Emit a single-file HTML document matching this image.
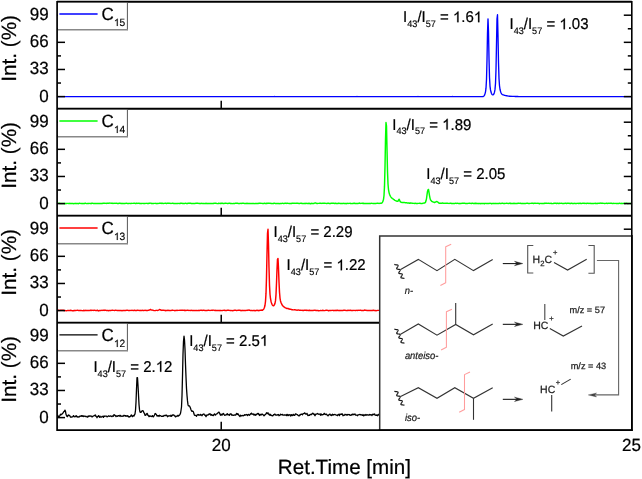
<!DOCTYPE html>
<html><head><meta charset="utf-8"><style>
html,body{margin:0;padding:0;background:#fff;overflow:hidden;}
svg{display:block;will-change:transform;}
text{font-family:"Liberation Sans",sans-serif;stroke:currentColor;stroke-width:0.22px;text-rendering:geometricPrecision;}
</style></head><body>
<svg width="642" height="479" viewBox="0 0 642 479">
<rect width="642" height="479" fill="#fff"/>
<polyline points="57.50,96.57 58.00,96.56 58.50,96.58 59.00,96.60 59.50,96.62 60.00,96.61 60.50,96.63 61.00,96.64 61.50,96.62 62.00,96.61 62.50,96.59 63.00,96.61 63.50,96.61 64.00,96.60 64.50,96.63 65.00,96.61 65.50,96.60 66.00,96.55 66.50,96.57 67.00,96.59 67.50,96.57 68.00,96.58 68.50,96.57 69.00,96.59 69.50,96.59 70.00,96.58 70.50,96.57 71.00,96.58 71.50,96.61 72.00,96.60 72.50,96.60 73.00,96.58 73.50,96.59 74.00,96.57 74.50,96.59 75.00,96.59 75.50,96.58 76.00,96.61 76.50,96.61 77.00,96.62 77.50,96.57 78.00,96.59 78.50,96.58 79.00,96.58 79.50,96.59 80.00,96.63 80.50,96.59 81.00,96.61 81.50,96.59 82.00,96.62 82.50,96.62 83.00,96.58 83.50,96.56 84.00,96.61 84.50,96.63 85.00,96.62 85.50,96.59 86.00,96.59 86.50,96.59 87.00,96.62 87.50,96.60 88.00,96.58 88.50,96.60 89.00,96.63 89.50,96.63 90.00,96.60 90.50,96.63 91.00,96.62 91.50,96.63 92.00,96.62 92.50,96.61 93.00,96.61 93.50,96.57 94.00,96.58 94.50,96.56 95.00,96.58 95.50,96.60 96.00,96.59 96.50,96.65 97.00,96.63 97.50,96.61 98.00,96.63 98.50,96.61 99.00,96.61 99.50,96.66 100.00,96.63 100.50,96.64 101.00,96.63 101.50,96.62 102.00,96.58 102.50,96.59 103.00,96.60 103.50,96.59 104.00,96.63 104.50,96.59 105.00,96.62 105.50,96.60 106.00,96.62 106.50,96.63 107.00,96.62 107.50,96.57 108.00,96.57 108.50,96.60 109.00,96.60 109.50,96.63 110.00,96.61 110.50,96.62 111.00,96.59 111.50,96.62 112.00,96.62 112.50,96.63 113.00,96.63 113.50,96.60 114.00,96.60 114.50,96.59 115.00,96.57 115.50,96.56 116.00,96.61 116.50,96.59 117.00,96.63 117.50,96.62 118.00,96.57 118.50,96.59 119.00,96.60 119.50,96.60 120.00,96.60 120.50,96.60 121.00,96.61 121.50,96.59 122.00,96.58 122.50,96.59 123.00,96.59 123.50,96.58 124.00,96.57 124.50,96.58 125.00,96.57 125.50,96.59 126.00,96.62 126.50,96.62 127.00,96.59 127.50,96.57 128.00,96.58 128.50,96.60 129.00,96.60 129.50,96.56 130.00,96.56 130.50,96.59 131.00,96.60 131.50,96.63 132.00,96.64 132.50,96.61 133.00,96.61 133.50,96.58 134.00,96.57 134.50,96.57 135.00,96.56 135.50,96.59 136.00,96.62 136.50,96.60 137.00,96.55 137.50,96.57 138.00,96.61 138.50,96.60 139.00,96.57 139.50,96.61 140.00,96.59 140.50,96.61 141.00,96.58 141.50,96.57 142.00,96.58 142.50,96.55 143.00,96.58 143.50,96.61 144.00,96.57 144.50,96.60 145.00,96.56 145.50,96.58 146.00,96.61 146.50,96.61 147.00,96.60 147.50,96.60 148.00,96.60 148.50,96.58 149.00,96.64 149.50,96.63 150.00,96.62 150.50,96.57 151.00,96.63 151.50,96.62 152.00,96.63 152.50,96.63 153.00,96.60 153.50,96.59 154.00,96.57 154.50,96.60 155.00,96.59 155.50,96.57 156.00,96.57 156.50,96.59 157.00,96.57 157.50,96.60 158.00,96.57 158.50,96.58 159.00,96.59 159.50,96.59 160.00,96.58 160.50,96.55 161.00,96.58 161.50,96.60 162.00,96.59 162.50,96.61 163.00,96.64 163.50,96.60 164.00,96.61 164.50,96.58 165.00,96.61 165.50,96.66 166.00,96.63 166.50,96.61 167.00,96.57 167.50,96.58 168.00,96.58 168.50,96.58 169.00,96.60 169.50,96.60 170.00,96.63 170.50,96.60 171.00,96.62 171.50,96.62 172.00,96.59 172.50,96.58 173.00,96.61 173.50,96.56 174.00,96.59 174.50,96.58 175.00,96.57 175.50,96.58 176.00,96.59 176.50,96.56 177.00,96.56 177.50,96.57 178.00,96.62 178.50,96.63 179.00,96.59 179.50,96.59 180.00,96.61 180.50,96.62 181.00,96.62 181.50,96.59 182.00,96.59 182.50,96.57 183.00,96.60 183.50,96.58 184.00,96.60 184.50,96.61 185.00,96.57 185.50,96.58 186.00,96.59 186.50,96.60 187.00,96.61 187.50,96.57 188.00,96.56 188.50,96.57 189.00,96.58 189.50,96.57 190.00,96.59 190.50,96.58 191.00,96.58 191.50,96.59 192.00,96.56 192.50,96.55 193.00,96.55 193.50,96.61 194.00,96.57 194.50,96.57 195.00,96.59 195.50,96.60 196.00,96.58 196.50,96.56 197.00,96.57 197.50,96.58 198.00,96.59 198.50,96.58 199.00,96.59 199.50,96.61 200.00,96.62 200.50,96.61 201.00,96.60 201.50,96.55 202.00,96.60 202.50,96.59 203.00,96.60 203.50,96.59 204.00,96.57 204.50,96.56 205.00,96.58 205.50,96.60 206.00,96.63 206.50,96.62 207.00,96.58 207.50,96.60 208.00,96.58 208.50,96.58 209.00,96.58 209.50,96.57 210.00,96.59 210.50,96.61 211.00,96.63 211.50,96.60 212.00,96.61 212.50,96.61 213.00,96.59 213.50,96.61 214.00,96.57 214.50,96.57 215.00,96.60 215.50,96.61 216.00,96.58 216.50,96.62 217.00,96.62 217.50,96.61 218.00,96.60 218.50,96.60 219.00,96.59 219.50,96.60 220.00,96.60 220.50,96.58 221.00,96.58 221.50,96.60 222.00,96.56 222.50,96.62 223.00,96.61 223.50,96.59 224.00,96.58 224.50,96.59 225.00,96.60 225.50,96.59 226.00,96.60 226.50,96.59 227.00,96.65 227.50,96.62 228.00,96.62 228.50,96.59 229.00,96.58 229.50,96.58 230.00,96.60 230.50,96.59 231.00,96.60 231.50,96.60 232.00,96.60 232.50,96.62 233.00,96.57 233.50,96.57 234.00,96.63 234.50,96.60 235.00,96.63 235.50,96.62 236.00,96.62 236.50,96.62 237.00,96.61 237.50,96.61 238.00,96.63 238.50,96.62 239.00,96.60 239.50,96.57 240.00,96.59 240.50,96.62 241.00,96.62 241.50,96.60 242.00,96.62 242.50,96.62 243.00,96.60 243.50,96.60 244.00,96.60 244.50,96.61 245.00,96.62 245.50,96.62 246.00,96.61 246.50,96.61 247.00,96.60 247.50,96.59 248.00,96.58 248.50,96.58 249.00,96.61 249.50,96.63 250.00,96.60 250.50,96.60 251.00,96.60 251.50,96.62 252.00,96.62 252.50,96.62 253.00,96.63 253.50,96.63 254.00,96.64 254.50,96.62 255.00,96.59 255.50,96.61 256.00,96.60 256.50,96.62 257.00,96.60 257.50,96.56 258.00,96.61 258.50,96.61 259.00,96.58 259.50,96.58 260.00,96.59 260.50,96.63 261.00,96.62 261.50,96.59 262.00,96.57 262.50,96.57 263.00,96.60 263.50,96.61 264.00,96.64 264.50,96.64 265.00,96.60 265.50,96.60 266.00,96.63 266.50,96.59 267.00,96.63 267.50,96.59 268.00,96.60 268.50,96.59 269.00,96.58 269.50,96.59 270.00,96.57 270.50,96.58 271.00,96.60 271.50,96.61 272.00,96.64 272.50,96.63 273.00,96.60 273.50,96.58 274.00,96.56 274.50,96.53 275.00,96.55 275.50,96.56 276.00,96.61 276.50,96.61 277.00,96.56 277.50,96.57 278.00,96.59 278.50,96.59 279.00,96.63 279.50,96.63 280.00,96.64 280.50,96.66 281.00,96.62 281.50,96.59 282.00,96.60 282.50,96.59 283.00,96.62 283.50,96.60 284.00,96.58 284.50,96.56 285.00,96.55 285.50,96.57 286.00,96.59 286.50,96.61 287.00,96.62 287.50,96.60 288.00,96.59 288.50,96.59 289.00,96.56 289.50,96.57 290.00,96.58 290.50,96.60 291.00,96.60 291.50,96.62 292.00,96.63 292.50,96.61 293.00,96.62 293.50,96.61 294.00,96.58 294.50,96.59 295.00,96.57 295.50,96.59 296.00,96.56 296.50,96.57 297.00,96.62 297.50,96.59 298.00,96.60 298.50,96.64 299.00,96.62 299.50,96.61 300.00,96.63 300.50,96.63 301.00,96.60 301.50,96.57 302.00,96.56 302.50,96.56 303.00,96.56 303.50,96.63 304.00,96.63 304.50,96.61 305.00,96.66 305.50,96.61 306.00,96.59 306.50,96.61 307.00,96.61 307.50,96.63 308.00,96.61 308.50,96.61 309.00,96.60 309.50,96.62 310.00,96.60 310.50,96.61 311.00,96.59 311.50,96.59 312.00,96.62 312.50,96.64 313.00,96.62 313.50,96.62 314.00,96.60 314.50,96.58 315.00,96.59 315.50,96.63 316.00,96.64 316.50,96.61 317.00,96.62 317.50,96.59 318.00,96.60 318.50,96.59 319.00,96.61 319.50,96.61 320.00,96.66 320.50,96.64 321.00,96.61 321.50,96.62 322.00,96.63 322.50,96.61 323.00,96.61 323.50,96.62 324.00,96.60 324.50,96.63 325.00,96.59 325.50,96.62 326.00,96.63 326.50,96.59 327.00,96.61 327.50,96.64 328.00,96.62 328.50,96.63 329.00,96.64 329.50,96.63 330.00,96.63 330.50,96.63 331.00,96.64 331.50,96.59 332.00,96.61 332.50,96.58 333.00,96.62 333.50,96.60 334.00,96.62 334.50,96.62 335.00,96.60 335.50,96.61 336.00,96.64 336.50,96.63 337.00,96.62 337.50,96.60 338.00,96.62 338.50,96.62 339.00,96.61 339.50,96.64 340.00,96.62 340.50,96.63 341.00,96.60 341.50,96.60 342.00,96.61 342.50,96.65 343.00,96.63 343.50,96.62 344.00,96.63 344.50,96.62 345.00,96.64 345.50,96.62 346.00,96.59 346.50,96.59 347.00,96.60 347.50,96.57 348.00,96.57 348.50,96.60 349.00,96.60 349.50,96.63 350.00,96.62 350.50,96.60 351.00,96.57 351.50,96.59 352.00,96.63 352.50,96.62 353.00,96.58 353.50,96.59 354.00,96.57 354.50,96.57 355.00,96.55 355.50,96.56 356.00,96.60 356.50,96.59 357.00,96.54 357.50,96.58 358.00,96.63 358.50,96.57 359.00,96.58 359.50,96.60 360.00,96.61 360.50,96.64 361.00,96.60 361.50,96.60 362.00,96.61 362.50,96.61 363.00,96.62 363.50,96.59 364.00,96.60 364.50,96.57 365.00,96.60 365.50,96.61 366.00,96.62 366.50,96.62 367.00,96.61 367.50,96.59 368.00,96.57 368.50,96.61 369.00,96.58 369.50,96.59 370.00,96.56 370.50,96.58 371.00,96.61 371.50,96.59 372.00,96.58 372.50,96.60 373.00,96.60 373.50,96.60 374.00,96.59 374.50,96.63 375.00,96.64 375.50,96.62 376.00,96.60 376.50,96.61 377.00,96.64 377.50,96.59 378.00,96.60 378.50,96.62 379.00,96.58 379.50,96.57 380.00,96.56 380.50,96.56 381.00,96.57 381.50,96.60 382.00,96.60 382.50,96.59 383.00,96.58 383.50,96.58 384.00,96.61 384.50,96.62 385.00,96.62 385.50,96.61 386.00,96.62 386.50,96.65 387.00,96.65 387.50,96.62 388.00,96.61 388.50,96.59 389.00,96.63 389.50,96.63 390.00,96.59 390.50,96.64 391.00,96.64 391.50,96.65 392.00,96.60 392.50,96.60 393.00,96.61 393.50,96.60 394.00,96.60 394.50,96.58 395.00,96.57 395.50,96.57 396.00,96.58 396.50,96.57 397.00,96.57 397.50,96.56 398.00,96.62 398.50,96.60 399.00,96.60 399.50,96.60 400.00,96.60 400.50,96.60 401.00,96.59 401.50,96.59 402.00,96.59 402.50,96.62 403.00,96.63 403.50,96.63 404.00,96.65 404.50,96.64 405.00,96.64 405.50,96.65 406.00,96.67 406.50,96.64 407.00,96.63 407.50,96.57 408.00,96.57 408.50,96.60 409.00,96.61 409.50,96.63 410.00,96.63 410.50,96.62 411.00,96.61 411.50,96.62 412.00,96.59 412.50,96.58 413.00,96.55 413.50,96.60 414.00,96.59 414.50,96.60 415.00,96.63 415.50,96.62 416.00,96.64 416.50,96.62 417.00,96.56 417.50,96.55 418.00,96.54 418.50,96.55 419.00,96.60 419.50,96.59 420.00,96.59 420.50,96.59 421.00,96.61 421.50,96.65 422.00,96.58 422.50,96.57 423.00,96.58 423.50,96.60 424.00,96.60 424.50,96.62 425.00,96.59 425.50,96.59 426.00,96.60 426.50,96.61 427.00,96.61 427.50,96.60 428.00,96.61 428.50,96.58 429.00,96.59 429.50,96.60 430.00,96.62 430.50,96.58 431.00,96.57 431.50,96.57 432.00,96.62 432.50,96.62 433.00,96.59 433.50,96.59 434.00,96.57 434.50,96.59 435.00,96.58 435.50,96.58 436.00,96.64 436.50,96.63 437.00,96.62 437.50,96.62 438.00,96.63 438.50,96.58 439.00,96.59 439.50,96.58 440.00,96.62 440.50,96.65 441.00,96.63 441.50,96.61 442.00,96.62 442.50,96.60 443.00,96.58 443.50,96.60 444.00,96.60 444.50,96.62 445.00,96.59 445.50,96.56 446.00,96.57 446.50,96.59 447.00,96.61 447.50,96.61 448.00,96.59 448.50,96.61 449.00,96.57 449.50,96.61 450.00,96.61 450.50,96.58 451.00,96.55 451.50,96.58 452.00,96.58 452.50,96.54 453.00,96.55 453.50,96.62 454.00,96.60 454.50,96.55 455.00,96.60 455.50,96.58 456.00,96.63 456.50,96.58 457.00,96.61 457.50,96.59 458.00,96.58 458.50,96.64 459.00,96.65 459.50,96.62 460.00,96.64 460.50,96.62 461.00,96.63 461.50,96.59 462.00,96.60 462.50,96.62 463.00,96.60 463.50,96.57 464.00,96.59 464.50,96.59 465.00,96.58 465.50,96.60 466.00,96.62 466.50,96.60 467.00,96.61 467.50,96.63 468.00,96.60 468.50,96.59 469.00,96.59 469.50,96.61 470.00,96.61 470.50,96.59 471.00,96.59 471.50,96.61 472.00,96.62 472.50,96.60 473.00,96.60 473.50,96.58 474.00,96.61 474.50,96.59 475.00,96.56 475.50,96.56 476.00,96.58 476.50,96.57 477.00,96.61 477.50,96.61 478.00,96.57 478.50,96.62 479.00,96.63 479.50,96.60 480.00,96.61 480.50,96.62 481.00,96.63 481.50,96.58 482.00,96.59 482.50,96.56 483.00,96.52 483.50,96.31 484.00,95.92 484.50,95.17 485.00,93.87 485.50,91.84 486.00,88.18 486.50,79.50 487.00,60.10 487.50,32.89 488.00,18.85 488.50,31.53 489.00,58.13 489.50,77.33 490.00,86.08 490.50,89.89 491.00,92.09 491.50,93.53 492.00,94.40 492.50,94.82 493.00,94.88 493.50,94.53 494.00,93.72 494.50,92.14 495.00,89.40 495.50,83.48 496.00,69.41 496.50,44.00 497.00,18.72 497.50,14.76 498.00,35.78 498.50,62.20 499.00,78.49 499.50,85.77 500.00,89.23 500.50,91.37 501.00,92.74 501.50,93.67 502.00,94.21 502.50,94.54 503.00,94.77 503.50,94.96 504.00,95.15 504.50,95.33 505.00,95.47 505.50,95.62 506.00,95.68 506.50,95.76 507.00,95.88 507.50,95.91 508.00,96.03 508.50,96.07 509.00,96.15 509.50,96.22 510.00,96.24 510.50,96.30 511.00,96.29 511.50,96.35 512.00,96.37 512.50,96.40 513.00,96.41 513.50,96.44 514.00,96.44 514.50,96.45 515.00,96.47 515.50,96.49 516.00,96.46 516.50,96.51 517.00,96.53 517.50,96.52 518.00,96.53 518.50,96.57 519.00,96.57 519.50,96.57 520.00,96.59 520.50,96.57 521.00,96.60 521.50,96.59 522.00,96.61 522.50,96.56 523.00,96.58 523.50,96.57 524.00,96.57 524.50,96.57 525.00,96.58 525.50,96.57 526.00,96.58 526.50,96.63 527.00,96.61 527.50,96.63 528.00,96.59 528.50,96.59 529.00,96.60 529.50,96.65 530.00,96.66 530.50,96.65 531.00,96.63 531.50,96.64 532.00,96.58 532.50,96.58 533.00,96.59 533.50,96.61 534.00,96.61 534.50,96.61 535.00,96.61 535.50,96.61 536.00,96.59 536.50,96.63 537.00,96.61 537.50,96.58 538.00,96.62 538.50,96.61 539.00,96.61 539.50,96.63 540.00,96.60 540.50,96.60 541.00,96.58 541.50,96.58 542.00,96.60 542.50,96.59 543.00,96.60 543.50,96.63 544.00,96.59 544.50,96.59 545.00,96.57 545.50,96.62 546.00,96.59 546.50,96.58 547.00,96.59 547.50,96.64 548.00,96.62 548.50,96.62 549.00,96.61 549.50,96.61 550.00,96.62 550.50,96.61 551.00,96.61 551.50,96.57 552.00,96.59 552.50,96.55 553.00,96.60 553.50,96.60 554.00,96.58 554.50,96.62 555.00,96.60 555.50,96.59 556.00,96.61 556.50,96.61 557.00,96.57 557.50,96.60 558.00,96.59 558.50,96.59 559.00,96.57 559.50,96.63 560.00,96.64 560.50,96.65 561.00,96.63 561.50,96.60 562.00,96.58 562.50,96.60 563.00,96.57 563.50,96.59 564.00,96.58 564.50,96.60 565.00,96.59 565.50,96.61 566.00,96.58 566.50,96.57 567.00,96.55 567.50,96.58 568.00,96.61 568.50,96.59 569.00,96.59 569.50,96.61 570.00,96.63 570.50,96.60 571.00,96.64 571.50,96.63 572.00,96.59 572.50,96.60 573.00,96.59 573.50,96.59 574.00,96.58 574.50,96.57 575.00,96.57 575.50,96.59 576.00,96.62 576.50,96.62 577.00,96.62 577.50,96.60 578.00,96.58 578.50,96.57 579.00,96.60 579.50,96.60 580.00,96.60 580.50,96.61 581.00,96.58 581.50,96.58 582.00,96.58 582.50,96.62 583.00,96.66 583.50,96.64 584.00,96.60 584.50,96.60 585.00,96.60 585.50,96.61 586.00,96.59 586.50,96.60 587.00,96.56 587.50,96.58 588.00,96.60 588.50,96.57 589.00,96.57 589.50,96.57 590.00,96.58 590.50,96.59 591.00,96.59 591.50,96.58 592.00,96.59 592.50,96.63 593.00,96.59 593.50,96.60 594.00,96.61 594.50,96.61 595.00,96.62 595.50,96.63 596.00,96.62 596.50,96.59 597.00,96.60 597.50,96.59 598.00,96.62 598.50,96.60 599.00,96.62 599.50,96.60 600.00,96.61 600.50,96.62 601.00,96.63 601.50,96.64 602.00,96.63 602.50,96.63 603.00,96.62 603.50,96.59 604.00,96.61 604.50,96.61 605.00,96.61 605.50,96.62 606.00,96.61 606.50,96.60 607.00,96.58 607.50,96.60 608.00,96.61 608.50,96.61 609.00,96.58 609.50,96.61 610.00,96.60 610.50,96.59 611.00,96.58 611.50,96.60 612.00,96.62 612.50,96.65 613.00,96.63 613.50,96.62 614.00,96.64 614.50,96.60 615.00,96.60 615.50,96.60 616.00,96.61 616.50,96.60 617.00,96.60 617.50,96.59 618.00,96.61 618.50,96.58 619.00,96.62 619.50,96.63 620.00,96.58 620.50,96.57 621.00,96.55 621.50,96.59 622.00,96.58 622.50,96.57 623.00,96.57 623.50,96.59 624.00,96.56 624.50,96.57 625.00,96.61 625.50,96.56 626.00,96.58 626.50,96.56 627.00,96.60 627.50,96.62 628.00,96.59 628.50,96.58 629.00,96.60 629.50,96.60 630.00,96.63 630.50,96.65 631.00,96.61 631.50,96.63" fill="none" stroke="#0000ff" stroke-width="1.35" stroke-linejoin="round"/>
<polyline points="57.50,203.17 58.00,203.35 58.50,203.34 59.00,203.35 59.50,203.29 60.00,203.49 60.50,203.48 61.00,203.52 61.50,203.57 62.00,203.57 62.50,203.53 63.00,203.50 63.50,203.54 64.00,203.43 64.50,203.47 65.00,203.75 65.50,203.46 66.00,203.47 66.50,203.51 67.00,203.43 67.50,203.39 68.00,203.39 68.50,203.48 69.00,203.42 69.50,203.56 70.00,203.34 70.50,203.50 71.00,203.47 71.50,203.43 72.00,203.39 72.50,203.42 73.00,203.36 73.50,203.74 74.00,203.60 74.50,203.53 75.00,203.52 75.50,203.32 76.00,203.47 76.50,203.46 77.00,203.65 77.50,203.51 78.00,203.63 78.50,203.69 79.00,203.32 79.50,203.30 80.00,203.37 80.50,203.38 81.00,203.55 81.50,203.59 82.00,203.47 82.50,203.66 83.00,203.52 83.50,203.65 84.00,203.52 84.50,203.59 85.00,203.33 85.50,203.27 86.00,203.40 86.50,203.61 87.00,203.60 87.50,203.52 88.00,203.57 88.50,203.47 89.00,203.35 89.50,203.39 90.00,203.45 90.50,203.36 91.00,203.42 91.50,203.34 92.00,203.41 92.50,203.26 93.00,203.37 93.50,203.51 94.00,203.46 94.50,203.51 95.00,203.56 95.50,203.51 96.00,203.39 96.50,203.63 97.00,203.53 97.50,203.49 98.00,203.47 98.50,203.37 99.00,203.53 99.50,203.41 100.00,203.44 100.50,203.42 101.00,203.45 101.50,203.47 102.00,203.50 102.50,203.42 103.00,203.21 103.50,203.21 104.00,203.23 104.50,203.27 105.00,203.39 105.50,203.35 106.00,203.17 106.50,203.43 107.00,203.34 107.50,203.28 108.00,203.32 108.50,203.29 109.00,203.21 109.50,203.09 110.00,203.12 110.50,203.10 111.00,203.22 111.50,203.24 112.00,203.31 112.50,203.33 113.00,203.42 113.50,203.35 114.00,203.23 114.50,203.34 115.00,203.35 115.50,203.32 116.00,203.36 116.50,203.29 117.00,203.33 117.50,203.49 118.00,203.55 118.50,203.41 119.00,203.34 119.50,203.27 120.00,203.31 120.50,203.34 121.00,203.53 121.50,203.33 122.00,203.46 122.50,203.33 123.00,203.48 123.50,203.51 124.00,203.44 124.50,203.47 125.00,203.51 125.50,203.37 126.00,203.32 126.50,203.32 127.00,203.40 127.50,203.49 128.00,203.49 128.50,203.50 129.00,203.46 129.50,203.35 130.00,203.40 130.50,203.48 131.00,203.50 131.50,203.33 132.00,203.35 132.50,203.35 133.00,203.35 133.50,203.32 134.00,203.35 134.50,203.26 135.00,203.25 135.50,203.61 136.00,203.52 136.50,203.16 137.00,203.41 137.50,203.39 138.00,203.29 138.50,203.35 139.00,203.24 139.50,203.45 140.00,203.55 140.50,203.49 141.00,203.52 141.50,203.57 142.00,203.43 142.50,203.39 143.00,203.39 143.50,203.44 144.00,203.39 144.50,203.41 145.00,203.48 145.50,203.39 146.00,203.36 146.50,203.37 147.00,203.32 147.50,203.47 148.00,203.45 148.50,203.48 149.00,203.31 149.50,203.30 150.00,203.14 150.50,203.11 151.00,203.29 151.50,203.46 152.00,203.38 152.50,203.42 153.00,203.42 153.50,203.52 154.00,203.40 154.50,203.38 155.00,203.35 155.50,203.34 156.00,203.46 156.50,203.66 157.00,203.55 157.50,203.54 158.00,203.52 158.50,203.37 159.00,203.39 159.50,203.25 160.00,203.30 160.50,203.28 161.00,203.29 161.50,203.26 162.00,203.46 162.50,203.32 163.00,203.35 163.50,203.47 164.00,203.37 164.50,203.35 165.00,203.25 165.50,203.25 166.00,203.29 166.50,203.51 167.00,203.29 167.50,203.19 168.00,203.22 168.50,203.26 169.00,203.21 169.50,203.39 170.00,203.33 170.50,203.36 171.00,203.48 171.50,203.40 172.00,203.37 172.50,203.21 173.00,203.21 173.50,203.47 174.00,203.63 174.50,203.52 175.00,203.48 175.50,203.53 176.00,203.61 176.50,203.53 177.00,203.58 177.50,203.56 178.00,203.39 178.50,203.37 179.00,203.46 179.50,203.54 180.00,203.49 180.50,203.27 181.00,203.39 181.50,203.22 182.00,203.39 182.50,203.42 183.00,203.34 183.50,203.45 184.00,203.42 184.50,203.54 185.00,203.41 185.50,203.29 186.00,203.41 186.50,203.39 187.00,203.43 187.50,203.63 188.00,203.24 188.50,203.26 189.00,203.25 189.50,203.28 190.00,203.32 190.50,203.13 191.00,203.45 191.50,203.45 192.00,203.47 192.50,203.46 193.00,203.36 193.50,203.45 194.00,203.56 194.50,203.59 195.00,203.45 195.50,203.33 196.00,203.28 196.50,203.18 197.00,203.34 197.50,203.27 198.00,203.27 198.50,203.35 199.00,203.45 199.50,203.34 200.00,203.44 200.50,203.45 201.00,203.52 201.50,203.29 202.00,203.35 202.50,203.42 203.00,203.44 203.50,203.44 204.00,203.41 204.50,203.58 205.00,203.60 205.50,203.45 206.00,203.32 206.50,203.46 207.00,203.42 207.50,203.47 208.00,203.66 208.50,203.56 209.00,203.59 209.50,203.41 210.00,203.43 210.50,203.42 211.00,203.55 211.50,203.46 212.00,203.63 212.50,203.49 213.00,203.31 213.50,203.48 214.00,203.35 214.50,203.24 215.00,203.34 215.50,203.26 216.00,203.32 216.50,203.41 217.00,203.61 217.50,203.61 218.00,203.65 218.50,203.29 219.00,203.32 219.50,203.38 220.00,203.52 220.50,203.29 221.00,203.46 221.50,203.28 222.00,203.23 222.50,203.31 223.00,203.42 223.50,203.42 224.00,203.54 224.50,203.41 225.00,203.23 225.50,203.23 226.00,203.21 226.50,203.37 227.00,203.36 227.50,203.48 228.00,203.49 228.50,203.37 229.00,203.13 229.50,203.26 230.00,203.33 230.50,203.55 231.00,203.46 231.50,203.52 232.00,203.60 232.50,203.65 233.00,203.51 233.50,203.50 234.00,203.38 234.50,203.41 235.00,203.41 235.50,203.26 236.00,203.25 236.50,203.25 237.00,203.18 237.50,203.27 238.00,203.43 238.50,203.50 239.00,203.60 239.50,203.47 240.00,203.47 240.50,203.39 241.00,203.31 241.50,203.44 242.00,203.40 242.50,203.27 243.00,203.33 243.50,203.27 244.00,203.35 244.50,203.47 245.00,203.46 245.50,203.62 246.00,203.44 246.50,203.47 247.00,203.30 247.50,203.47 248.00,203.42 248.50,203.38 249.00,203.41 249.50,203.37 250.00,203.46 250.50,203.54 251.00,203.61 251.50,203.56 252.00,203.56 252.50,203.46 253.00,203.47 253.50,203.50 254.00,203.52 254.50,203.65 255.00,203.56 255.50,203.44 256.00,203.55 256.50,203.50 257.00,203.38 257.50,203.46 258.00,203.41 258.50,203.45 259.00,203.18 259.50,203.15 260.00,203.15 260.50,203.35 261.00,203.31 261.50,203.37 262.00,203.35 262.50,203.43 263.00,203.40 263.50,203.48 264.00,203.41 264.50,203.23 265.00,203.45 265.50,203.56 266.00,203.43 266.50,203.33 267.00,203.41 267.50,203.34 268.00,203.33 268.50,203.31 269.00,203.21 269.50,203.37 270.00,203.32 270.50,203.34 271.00,203.44 271.50,203.37 272.00,203.52 272.50,203.61 273.00,203.40 273.50,203.51 274.00,203.28 274.50,203.24 275.00,203.37 275.50,203.48 276.00,203.66 276.50,203.54 277.00,203.64 277.50,203.36 278.00,203.55 278.50,203.47 279.00,203.71 279.50,203.59 280.00,203.36 280.50,203.43 281.00,203.50 281.50,203.50 282.00,203.41 282.50,203.32 283.00,203.38 283.50,203.60 284.00,203.47 284.50,203.34 285.00,203.13 285.50,203.25 286.00,203.31 286.50,203.41 287.00,203.33 287.50,203.18 288.00,203.39 288.50,203.39 289.00,203.50 289.50,203.52 290.00,203.48 290.50,203.39 291.00,203.48 291.50,203.47 292.00,203.30 292.50,203.30 293.00,203.28 293.50,203.30 294.00,203.37 294.50,203.34 295.00,203.32 295.50,203.36 296.00,203.28 296.50,203.34 297.00,203.28 297.50,203.34 298.00,203.29 298.50,203.42 299.00,203.47 299.50,203.55 300.00,203.35 300.50,203.33 301.00,203.34 301.50,203.31 302.00,203.44 302.50,203.41 303.00,203.46 303.50,203.62 304.00,203.54 304.50,203.56 305.00,203.33 305.50,203.44 306.00,203.49 306.50,203.34 307.00,203.37 307.50,203.52 308.00,203.44 308.50,203.50 309.00,203.27 309.50,203.45 310.00,203.50 310.50,203.73 311.00,203.64 311.50,203.33 312.00,203.38 312.50,203.49 313.00,203.41 313.50,203.44 314.00,203.42 314.50,203.16 315.00,203.07 315.50,203.07 316.00,203.07 316.50,203.33 317.00,203.56 317.50,203.41 318.00,203.36 318.50,203.38 319.00,203.40 319.50,203.33 320.00,203.31 320.50,203.33 321.00,203.31 321.50,203.38 322.00,203.43 322.50,203.27 323.00,203.36 323.50,203.18 324.00,203.22 324.50,203.31 325.00,203.24 325.50,203.37 326.00,203.40 326.50,203.44 327.00,203.42 327.50,203.34 328.00,203.16 328.50,203.23 329.00,203.42 329.50,203.50 330.00,203.63 330.50,203.44 331.00,203.33 331.50,203.33 332.00,203.33 332.50,203.31 333.00,203.31 333.50,203.29 334.00,203.32 334.50,203.46 335.00,203.34 335.50,203.23 336.00,203.48 336.50,203.47 337.00,203.55 337.50,203.42 338.00,203.44 338.50,203.28 339.00,203.22 339.50,203.36 340.00,203.43 340.50,203.47 341.00,203.38 341.50,203.49 342.00,203.40 342.50,203.54 343.00,203.36 343.50,203.33 344.00,203.49 344.50,203.52 345.00,203.45 345.50,203.40 346.00,203.69 346.50,203.53 347.00,203.31 347.50,203.40 348.00,203.54 348.50,203.35 349.00,203.35 349.50,203.35 350.00,203.31 350.50,203.48 351.00,203.51 351.50,203.57 352.00,203.60 352.50,203.53 353.00,203.58 353.50,203.32 354.00,203.31 354.50,203.27 355.00,203.51 355.50,203.48 356.00,203.45 356.50,203.41 357.00,203.36 357.50,203.46 358.00,203.53 358.50,203.37 359.00,203.15 359.50,203.06 360.00,203.26 360.50,203.41 361.00,203.39 361.50,203.35 362.00,203.19 362.50,203.32 363.00,203.44 363.50,203.31 364.00,203.43 364.50,203.50 365.00,203.40 365.50,203.42 366.00,203.52 366.50,203.49 367.00,203.49 367.50,203.47 368.00,203.51 368.50,203.40 369.00,203.44 369.50,203.48 370.00,203.33 370.50,203.46 371.00,203.35 371.50,203.32 372.00,203.39 372.50,203.37 373.00,203.54 373.50,203.44 374.00,203.53 374.50,203.55 375.00,203.45 375.50,203.50 376.00,203.44 376.50,203.38 377.00,203.28 377.50,203.30 378.00,203.25 378.50,203.40 379.00,203.44 379.50,203.35 380.00,203.24 380.50,203.23 381.00,203.26 381.50,203.19 382.00,202.89 382.50,202.06 383.00,201.13 383.50,199.32 384.00,195.47 384.50,186.15 385.00,166.68 385.50,139.56 386.00,122.50 386.50,126.11 387.00,148.80 387.50,171.37 388.00,183.99 388.50,189.57 389.00,192.37 389.50,194.20 390.00,195.39 390.50,196.34 391.00,197.09 391.50,197.71 392.00,198.20 392.50,198.53 393.00,198.83 393.50,199.28 394.00,199.60 394.50,200.11 395.00,200.42 395.50,200.65 396.00,200.89 396.50,200.95 397.00,201.34 397.50,201.35 398.00,201.21 398.50,200.17 399.00,199.25 399.50,200.00 400.00,201.34 400.50,201.89 401.00,202.23 401.50,202.36 402.00,202.55 402.50,202.55 403.00,202.52 403.50,202.47 404.00,202.56 404.50,202.59 405.00,202.62 405.50,202.84 406.00,202.82 406.50,202.80 407.00,202.92 407.50,203.08 408.00,203.06 408.50,203.06 409.00,203.02 409.50,203.26 410.00,203.25 410.50,203.01 411.00,202.98 411.50,203.11 412.00,203.20 412.50,203.25 413.00,203.35 413.50,203.35 414.00,203.32 414.50,203.42 415.00,203.37 415.50,203.31 416.00,203.44 416.50,203.43 417.00,203.53 417.50,203.43 418.00,203.36 418.50,203.40 419.00,203.37 419.50,203.30 420.00,203.26 420.50,203.44 421.00,203.43 421.50,203.54 422.00,203.63 422.50,203.38 423.00,203.25 423.50,203.11 424.00,203.03 424.50,203.03 425.00,202.77 425.50,202.26 426.00,200.79 426.50,198.58 427.00,194.84 427.50,191.39 428.00,189.81 428.50,189.44 429.00,192.33 429.50,195.60 430.00,198.12 430.50,199.85 431.00,200.42 431.50,201.10 432.00,201.56 432.50,201.66 433.00,201.98 433.50,202.11 434.00,202.26 434.50,202.46 435.00,202.26 435.50,202.04 436.00,201.88 436.50,201.53 437.00,201.56 437.50,201.79 438.00,202.25 438.50,202.77 439.00,203.01 439.50,203.21 440.00,203.17 440.50,203.18 441.00,203.26 441.50,203.13 442.00,203.16 442.50,203.04 443.00,203.21 443.50,203.30 444.00,203.38 444.50,203.33 445.00,203.35 445.50,203.34 446.00,203.17 446.50,203.18 447.00,203.34 447.50,203.31 448.00,203.37 448.50,203.40 449.00,203.41 449.50,203.39 450.00,203.32 450.50,203.25 451.00,203.31 451.50,203.43 452.00,203.41 452.50,203.42 453.00,203.43 453.50,203.53 454.00,203.48 454.50,203.62 455.00,203.38 455.50,203.31 456.00,203.28 456.50,203.43 457.00,203.39 457.50,203.27 458.00,203.35 458.50,203.48 459.00,203.45 459.50,203.65 460.00,203.43 460.50,203.37 461.00,203.52 461.50,203.39 462.00,203.28 462.50,203.28 463.00,203.27 463.50,203.18 464.00,203.27 464.50,203.19 465.00,203.32 465.50,203.43 466.00,203.45 466.50,203.53 467.00,203.42 467.50,203.48 468.00,203.40 468.50,203.37 469.00,203.22 469.50,203.13 470.00,203.32 470.50,203.38 471.00,203.41 471.50,203.46 472.00,203.25 472.50,203.20 473.00,203.32 473.50,203.50 474.00,203.51 474.50,203.45 475.00,203.27 475.50,203.46 476.00,203.29 476.50,203.49 477.00,203.41 477.50,203.52 478.00,203.50 478.50,203.69 479.00,203.49 479.50,203.44 480.00,203.52 480.50,203.68 481.00,203.54 481.50,203.48 482.00,203.58 482.50,203.44 483.00,203.43 483.50,203.53 484.00,203.55 484.50,203.72 485.00,203.49 485.50,203.35 486.00,203.39 486.50,203.52 487.00,203.58 487.50,203.52 488.00,203.55 488.50,203.45 489.00,203.51 489.50,203.37 490.00,203.27 490.50,203.39 491.00,203.48 491.50,203.74 492.00,203.57 492.50,203.45 493.00,203.52 493.50,203.35 494.00,203.44 494.50,203.54 495.00,203.39 495.50,203.35 496.00,203.58 496.50,203.56 497.00,203.61 497.50,203.53 498.00,203.45 498.50,203.47 499.00,203.42 499.50,203.32 500.00,203.39 500.50,203.53 501.00,203.56 501.50,203.40 502.00,203.23 502.50,203.33 503.00,203.33 503.50,203.45 504.00,203.48 504.50,203.35 505.00,203.43 505.50,203.40 506.00,203.39 506.50,203.28 507.00,203.32 507.50,203.37 508.00,203.41 508.50,203.46 509.00,203.33 509.50,203.15 510.00,203.44 510.50,203.32 511.00,203.46 511.50,203.49 512.00,203.48 512.50,203.49 513.00,203.48 513.50,203.50 514.00,203.27 514.50,203.48 515.00,203.51 515.50,203.53 516.00,203.45 516.50,203.56 517.00,203.48 517.50,203.43 518.00,203.22 518.50,203.25 519.00,203.33 519.50,203.36 520.00,203.20 520.50,203.31 521.00,203.43 521.50,203.48 522.00,203.48 522.50,203.35 523.00,203.48 523.50,203.50 524.00,203.45 524.50,203.52 525.00,203.40 525.50,203.44 526.00,203.37 526.50,203.34 527.00,203.22 527.50,203.14 528.00,203.36 528.50,203.51 529.00,203.57 529.50,203.44 530.00,203.37 530.50,203.39 531.00,203.40 531.50,203.25 532.00,203.24 532.50,203.30 533.00,203.29 533.50,203.49 534.00,203.33 534.50,203.16 535.00,203.27 535.50,203.38 536.00,203.27 536.50,203.38 537.00,203.38 537.50,203.33 538.00,203.38 538.50,203.32 539.00,203.55 539.50,203.72 540.00,203.49 540.50,203.39 541.00,203.37 541.50,203.43 542.00,203.41 542.50,203.36 543.00,203.49 543.50,203.42 544.00,203.49 544.50,203.24 545.00,203.28 545.50,203.31 546.00,203.26 546.50,203.23 547.00,203.22 547.50,203.38 548.00,203.37 548.50,203.30 549.00,203.33 549.50,203.35 550.00,203.43 550.50,203.40 551.00,203.26 551.50,203.45 552.00,203.56 552.50,203.60 553.00,203.65 553.50,203.40 554.00,203.21 554.50,203.26 555.00,203.32 555.50,203.22 556.00,203.21 556.50,203.53 557.00,203.47 557.50,203.19 558.00,203.33 558.50,203.44 559.00,203.48 559.50,203.28 560.00,203.38 560.50,203.35 561.00,203.26 561.50,203.31 562.00,203.35 562.50,203.48 563.00,203.56 563.50,203.37 564.00,203.51 564.50,203.35 565.00,203.25 565.50,203.18 566.00,203.31 566.50,203.44 567.00,203.41 567.50,203.27 568.00,203.28 568.50,203.29 569.00,203.36 569.50,203.29 570.00,203.54 570.50,203.58 571.00,203.34 571.50,203.32 572.00,203.29 572.50,203.53 573.00,203.55 573.50,203.52 574.00,203.47 574.50,203.32 575.00,203.41 575.50,203.39 576.00,203.47 576.50,203.46 577.00,203.39 577.50,203.35 578.00,203.28 578.50,203.46 579.00,203.35 579.50,203.33 580.00,203.44 580.50,203.29 581.00,203.41 581.50,203.44 582.00,203.37 582.50,203.24 583.00,203.36 583.50,203.23 584.00,203.28 584.50,203.41 585.00,203.33 585.50,203.36 586.00,203.45 586.50,203.44 587.00,203.30 587.50,203.31 588.00,203.38 588.50,203.31 589.00,203.49 589.50,203.38 590.00,203.26 590.50,203.44 591.00,203.53 591.50,203.55 592.00,203.49 592.50,203.52 593.00,203.46 593.50,203.53 594.00,203.44 594.50,203.36 595.00,203.34 595.50,203.42 596.00,203.33 596.50,203.52 597.00,203.52 597.50,203.47 598.00,203.31 598.50,203.39 599.00,203.33 599.50,203.21 600.00,203.11 600.50,203.08 601.00,203.32 601.50,203.33 602.00,203.32 602.50,203.29 603.00,203.29 603.50,203.36 604.00,203.37 604.50,203.52 605.00,203.39 605.50,203.36 606.00,203.44 606.50,203.24 607.00,203.32 607.50,203.42 608.00,203.35 608.50,203.33 609.00,203.30 609.50,203.36 610.00,203.30 610.50,203.34 611.00,203.25 611.50,203.29 612.00,203.42 612.50,203.51 613.00,203.40 613.50,203.31 614.00,203.50 614.50,203.39 615.00,203.40 615.50,203.37 616.00,203.46 616.50,203.54 617.00,203.53 617.50,203.54 618.00,203.51 618.50,203.44 619.00,203.42 619.50,203.22 620.00,203.40 620.50,203.44 621.00,203.41 621.50,203.34 622.00,203.47 622.50,203.58 623.00,203.46 623.50,203.39 624.00,203.34 624.50,203.30 625.00,203.50 625.50,203.34 626.00,203.38 626.50,203.19 627.00,203.33 627.50,203.58 628.00,203.50 628.50,203.43 629.00,203.38 629.50,203.37 630.00,203.44 630.50,203.58 631.00,203.51 631.50,203.48" fill="none" stroke="#00ff00" stroke-width="1.45" stroke-linejoin="round"/>
<polyline points="57.50,310.39 58.00,310.24 58.50,310.44 59.00,310.29 59.50,310.38 60.00,310.42 60.50,310.17 61.00,310.27 61.50,310.34 62.00,310.28 62.50,310.20 63.00,310.30 63.50,310.28 64.00,310.46 64.50,310.48 65.00,310.49 65.50,310.61 66.00,310.70 66.50,310.75 67.00,310.61 67.50,310.52 68.00,310.50 68.50,310.44 69.00,310.59 69.50,310.50 70.00,310.42 70.50,310.32 71.00,310.46 71.50,310.48 72.00,310.69 72.50,310.61 73.00,310.78 73.50,310.77 74.00,310.45 74.50,310.70 75.00,310.45 75.50,310.38 76.00,310.43 76.50,310.36 77.00,310.31 77.50,310.23 78.00,310.34 78.50,310.44 79.00,310.50 79.50,310.57 80.00,310.49 80.50,310.54 81.00,310.34 81.50,310.60 82.00,310.64 82.50,310.64 83.00,310.78 83.50,310.35 84.00,310.68 84.50,310.57 85.00,310.55 85.50,310.27 86.00,310.58 86.50,310.36 87.00,310.47 87.50,310.45 88.00,310.51 88.50,310.38 89.00,310.53 89.50,310.47 90.00,310.39 90.50,310.17 91.00,310.58 91.50,310.30 92.00,310.23 92.50,310.38 93.00,310.35 93.50,310.43 94.00,310.21 94.50,310.28 95.00,310.37 95.50,310.41 96.00,310.43 96.50,310.44 97.00,310.53 97.50,310.21 98.00,310.54 98.50,310.92 99.00,310.68 99.50,310.56 100.00,310.43 100.50,310.44 101.00,310.44 101.50,310.38 102.00,310.27 102.50,310.39 103.00,310.44 103.50,310.18 104.00,310.22 104.50,310.43 105.00,310.13 105.50,310.17 106.00,310.36 106.50,310.53 107.00,310.43 107.50,310.52 108.00,310.59 108.50,310.66 109.00,310.59 109.50,310.36 110.00,310.43 110.50,310.60 111.00,310.42 111.50,310.40 112.00,310.29 112.50,310.20 113.00,310.32 113.50,310.38 114.00,310.39 114.50,310.54 115.00,310.39 115.50,310.22 116.00,310.29 116.50,310.37 117.00,310.42 117.50,310.51 118.00,310.55 118.50,310.53 119.00,310.57 119.50,310.54 120.00,310.67 120.50,310.49 121.00,310.44 121.50,310.56 122.00,310.77 122.50,310.59 123.00,310.35 123.50,310.47 124.00,310.49 124.50,310.52 125.00,310.38 125.50,310.50 126.00,310.33 126.50,310.40 127.00,310.29 127.50,310.34 128.00,310.40 128.50,310.58 129.00,310.58 129.50,310.52 130.00,310.38 130.50,310.36 131.00,310.47 131.50,310.38 132.00,310.27 132.50,310.35 133.00,310.43 133.50,310.46 134.00,310.33 134.50,310.30 135.00,310.47 135.50,310.39 136.00,310.45 136.50,310.52 137.00,310.31 137.50,310.25 138.00,310.42 138.50,310.40 139.00,310.34 139.50,310.45 140.00,310.44 140.50,310.34 141.00,310.59 141.50,310.45 142.00,310.34 142.50,310.30 143.00,310.52 143.50,310.42 144.00,310.52 144.50,310.39 145.00,310.32 145.50,310.33 146.00,310.46 146.50,310.50 147.00,310.35 147.50,310.48 148.00,310.37 148.50,310.30 149.00,310.30 149.50,309.87 150.00,309.82 150.50,309.43 151.00,309.78 151.50,310.10 152.00,310.01 152.50,310.11 153.00,310.31 153.50,310.38 154.00,310.64 154.50,310.60 155.00,310.63 155.50,310.54 156.00,310.36 156.50,310.37 157.00,310.34 157.50,310.44 158.00,310.40 158.50,310.17 159.00,309.90 159.50,309.49 160.00,309.70 160.50,309.70 161.00,310.20 161.50,310.21 162.00,310.42 162.50,310.21 163.00,310.29 163.50,310.29 164.00,310.25 164.50,310.41 165.00,310.53 165.50,310.72 166.00,310.41 166.50,310.49 167.00,310.52 167.50,310.46 168.00,310.18 168.50,310.51 169.00,310.42 169.50,310.46 170.00,310.36 170.50,310.61 171.00,310.55 171.50,310.37 172.00,310.19 172.50,310.10 173.00,310.35 173.50,310.37 174.00,310.40 174.50,310.57 175.00,310.67 175.50,310.44 176.00,310.39 176.50,310.41 177.00,310.25 177.50,310.45 178.00,310.36 178.50,310.38 179.00,310.40 179.50,310.34 180.00,310.35 180.50,310.34 181.00,310.34 181.50,310.13 182.00,310.30 182.50,310.22 183.00,310.24 183.50,310.36 184.00,310.28 184.50,310.45 185.00,310.28 185.50,310.44 186.00,310.48 186.50,310.40 187.00,310.30 187.50,310.23 188.00,310.21 188.50,310.33 189.00,310.48 189.50,310.37 190.00,310.35 190.50,310.49 191.00,310.33 191.50,310.34 192.00,310.49 192.50,310.39 193.00,310.56 193.50,310.59 194.00,310.44 194.50,310.62 195.00,310.50 195.50,310.62 196.00,310.42 196.50,310.50 197.00,310.43 197.50,310.60 198.00,310.54 198.50,310.35 199.00,310.32 199.50,310.59 200.00,310.38 200.50,310.28 201.00,310.39 201.50,310.22 202.00,310.44 202.50,310.43 203.00,310.28 203.50,310.17 204.00,310.13 204.50,310.40 205.00,310.62 205.50,310.46 206.00,310.61 206.50,310.52 207.00,310.62 207.50,310.38 208.00,310.29 208.50,310.27 209.00,310.34 209.50,310.36 210.00,310.42 210.50,310.36 211.00,310.35 211.50,310.32 212.00,310.41 212.50,310.17 213.00,310.25 213.50,310.15 214.00,310.11 214.50,310.36 215.00,310.59 215.50,310.34 216.00,310.42 216.50,310.40 217.00,310.43 217.50,310.40 218.00,310.55 218.50,310.49 219.00,310.50 219.50,310.45 220.00,310.72 220.50,310.46 221.00,310.39 221.50,310.61 222.00,310.60 222.50,310.49 223.00,310.37 223.50,310.38 224.00,310.22 224.50,310.31 225.00,310.48 225.50,310.52 226.00,310.37 226.50,310.46 227.00,310.33 227.50,310.24 228.00,310.24 228.50,310.19 229.00,310.32 229.50,310.36 230.00,310.45 230.50,310.50 231.00,310.65 231.50,310.59 232.00,310.63 232.50,310.69 233.00,310.53 233.50,310.41 234.00,310.45 234.50,310.25 235.00,310.21 235.50,310.17 236.00,310.36 236.50,310.57 237.00,310.41 237.50,310.37 238.00,310.29 238.50,310.29 239.00,310.19 239.50,310.33 240.00,310.28 240.50,310.45 241.00,310.72 241.50,310.61 242.00,310.32 242.50,310.57 243.00,310.36 243.50,310.46 244.00,310.48 244.50,310.44 245.00,310.39 245.50,310.52 246.00,310.44 246.50,310.37 247.00,310.28 247.50,310.43 248.00,310.22 248.50,310.07 249.00,309.93 249.50,310.33 250.00,310.35 250.50,310.61 251.00,310.46 251.50,310.36 252.00,310.52 252.50,310.66 253.00,310.51 253.50,310.37 254.00,310.49 254.50,310.48 255.00,310.75 255.50,310.67 256.00,310.51 256.50,310.44 257.00,310.22 257.50,310.45 258.00,310.71 258.50,310.50 259.00,310.52 259.50,310.43 260.00,310.32 260.50,310.28 261.00,310.15 261.50,310.08 262.00,310.37 262.50,310.23 263.00,309.71 263.50,309.40 264.00,308.49 264.50,307.27 265.00,305.28 265.50,301.35 266.00,293.40 266.50,277.58 267.00,253.72 267.50,233.30 268.00,229.32 268.50,244.43 269.00,267.60 269.50,285.14 270.00,294.25 270.50,298.71 271.00,301.18 271.50,302.93 272.00,304.30 272.50,305.21 273.00,305.67 273.50,305.82 274.00,305.42 274.50,304.69 275.00,303.36 275.50,300.64 276.00,294.59 276.50,283.32 277.00,269.17 277.50,259.14 278.00,258.59 278.50,268.38 279.00,281.66 279.50,292.10 280.00,298.01 280.50,300.93 281.00,302.47 281.50,303.63 282.00,304.74 282.50,305.54 283.00,306.08 283.50,306.62 284.00,306.91 284.50,307.23 285.00,307.66 285.50,307.88 286.00,308.05 286.50,308.31 287.00,308.56 287.50,308.51 288.00,308.43 288.50,308.74 289.00,308.97 289.50,309.02 290.00,309.19 290.50,309.39 291.00,309.26 291.50,309.54 292.00,309.68 292.50,309.77 293.00,309.88 293.50,309.87 294.00,309.80 294.50,309.67 295.00,309.73 295.50,309.86 296.00,310.10 296.50,310.08 297.00,310.20 297.50,310.17 298.00,310.03 298.50,310.07 299.00,310.15 299.50,310.27 300.00,310.25 300.50,310.22 301.00,310.35 301.50,310.37 302.00,310.21 302.50,310.45 303.00,310.43 303.50,310.51 304.00,310.22 304.50,310.19 305.00,310.19 305.50,310.21 306.00,310.24 306.50,310.25 307.00,310.50 307.50,310.39 308.00,310.30 308.50,310.51 309.00,310.33 309.50,310.27 310.00,310.51 310.50,310.50 311.00,310.47 311.50,310.49 312.00,310.39 312.50,310.54 313.00,310.49 313.50,310.41 314.00,310.31 314.50,310.34 315.00,310.39 315.50,310.30 316.00,310.60 316.50,310.38 317.00,310.42 317.50,310.56 318.00,310.53 318.50,310.69 319.00,310.80 319.50,310.64 320.00,310.61 320.50,310.41 321.00,310.51 321.50,310.62 322.00,310.63 322.50,310.30 323.00,310.34 323.50,310.45 324.00,310.55 324.50,310.61 325.00,310.52 325.50,310.41 326.00,310.26 326.50,310.19 327.00,310.26 327.50,310.41 328.00,310.51 328.50,310.74 329.00,310.70 329.50,310.50 330.00,310.49 330.50,310.40 331.00,310.57 331.50,310.37 332.00,310.35 332.50,310.37 333.00,310.33 333.50,310.65 334.00,310.59 334.50,310.61 335.00,310.28 335.50,310.36 336.00,310.44 336.50,310.32 337.00,310.49 337.50,310.27 338.00,310.42 338.50,310.42 339.00,310.52 339.50,310.36 340.00,310.65 340.50,310.44 341.00,310.52 341.50,310.45 342.00,310.57 342.50,310.46 343.00,310.41 343.50,310.33 344.00,310.33 344.50,310.28 345.00,310.22 345.50,310.36 346.00,310.53 346.50,310.62 347.00,310.43 347.50,310.46 348.00,310.30 348.50,310.34 349.00,310.50 349.50,310.34 350.00,310.13 350.50,310.29 351.00,310.46 351.50,310.54 352.00,310.36 352.50,310.45 353.00,310.48 353.50,310.35 354.00,310.37 354.50,310.37 355.00,310.45 355.50,310.51 356.00,310.43 356.50,310.40 357.00,310.32 357.50,310.42 358.00,310.37 358.50,310.33 359.00,310.35 359.50,310.30 360.00,310.23 360.50,310.29 361.00,310.33 361.50,310.49 362.00,310.40 362.50,310.41 363.00,310.45 363.50,310.53 364.00,310.39 364.50,310.08 365.00,310.18 365.50,310.28 366.00,310.29 366.50,310.42 367.00,310.40 367.50,310.48 368.00,310.52 368.50,310.43 369.00,310.39 369.50,310.41 370.00,310.50 370.50,310.42 371.00,310.55 371.50,310.38 372.00,310.43 372.50,310.42 373.00,310.31 373.50,310.29 374.00,310.50 374.50,310.48 375.00,310.40 375.50,310.53 376.00,310.77 376.50,310.59 377.00,310.50 377.50,310.40 378.00,310.39 378.50,310.38 379.00,310.36 379.50,310.21 380.00,310.24" fill="none" stroke="#ff0000" stroke-width="1.45" stroke-linejoin="round"/>
<polyline points="57.50,414.94 58.00,415.86 58.50,417.22 59.00,417.04 59.50,416.03 60.00,415.36 60.50,414.25 61.00,414.72 61.50,414.21 62.00,414.04 62.50,413.69 63.00,412.94 63.50,412.15 64.00,411.52 64.50,411.12 65.00,410.14 65.50,411.32 66.00,414.29 66.50,415.40 67.00,416.39 67.50,416.66 68.00,415.45 68.50,414.88 69.00,415.32 69.50,415.29 70.00,416.20 70.50,417.05 71.00,417.22 71.50,417.13 72.00,416.78 72.50,416.80 73.00,416.56 73.50,415.56 74.00,416.38 74.50,416.79 75.00,416.72 75.50,416.01 76.00,416.56 76.50,415.76 77.00,416.74 77.50,417.08 78.00,416.77 78.50,417.02 79.00,417.02 79.50,416.48 80.00,416.08 80.50,416.18 81.00,416.43 81.50,415.74 82.00,415.87 82.50,416.25 83.00,415.72 83.50,416.51 84.00,416.37 84.50,416.06 85.00,416.23 85.50,416.60 86.00,416.33 86.50,416.63 87.00,416.81 87.50,417.12 88.00,416.11 88.50,416.53 89.00,415.89 89.50,415.95 90.00,416.31 90.50,416.02 91.00,416.07 91.50,416.17 92.00,416.97 92.50,416.65 93.00,416.08 93.50,416.00 94.00,415.70 94.50,415.30 95.00,415.65 95.50,415.04 96.00,416.47 96.50,416.56 97.00,417.74 97.50,416.66 98.00,416.48 98.50,415.60 99.00,416.18 99.50,417.30 100.00,416.21 100.50,416.98 101.00,417.32 101.50,416.95 102.00,416.36 102.50,416.63 103.00,416.42 103.50,417.35 104.00,416.01 104.50,416.24 105.00,416.26 105.50,416.04 106.00,416.13 106.50,416.17 107.00,416.75 107.50,416.63 108.00,416.30 108.50,415.83 109.00,416.17 109.50,416.24 110.00,416.15 110.50,415.99 111.00,416.09 111.50,416.37 112.00,416.64 112.50,415.96 113.00,416.03 113.50,416.21 114.00,414.56 114.50,415.04 115.00,415.29 115.50,415.77 116.00,416.59 116.50,415.93 117.00,416.21 117.50,416.28 118.00,415.83 118.50,415.60 119.00,415.88 119.50,416.13 120.00,415.22 120.50,415.52 121.00,416.47 121.50,416.06 122.00,416.16 122.50,416.26 123.00,415.99 123.50,416.08 124.00,415.24 124.50,415.72 125.00,415.93 125.50,415.59 126.00,416.27 126.50,415.83 127.00,416.15 127.50,415.68 128.00,416.47 128.50,416.22 129.00,417.11 129.50,416.98 130.00,416.68 130.50,416.29 131.00,415.34 131.50,414.93 132.00,416.29 132.50,416.64 133.00,415.73 133.50,415.51 134.00,416.01 134.50,414.82 135.00,413.88 135.50,410.28 136.00,402.20 136.50,389.15 137.00,377.75 137.50,377.72 138.00,385.56 138.50,394.86 139.00,404.34 139.50,409.65 140.00,412.04 140.50,412.37 141.00,412.42 141.50,411.15 142.00,411.11 142.50,410.61 143.00,410.75 143.50,411.79 144.00,412.89 144.50,413.50 145.00,415.33 145.50,415.27 146.00,414.91 146.50,413.88 147.00,413.34 147.50,413.97 148.00,415.42 148.50,415.59 149.00,416.66 149.50,415.88 150.00,416.39 150.50,415.97 151.00,416.23 151.50,416.34 152.00,416.58 152.50,415.64 153.00,416.38 153.50,416.76 154.00,416.01 154.50,414.96 155.00,413.69 155.50,413.50 156.00,414.26 156.50,414.77 157.00,416.15 157.50,415.87 158.00,415.60 158.50,415.73 159.00,416.47 159.50,415.28 160.00,415.57 160.50,415.67 161.00,416.01 161.50,416.46 162.00,416.34 162.50,416.05 163.00,416.42 163.50,416.12 164.00,415.45 164.50,415.47 165.00,415.75 165.50,415.31 166.00,415.15 166.50,415.08 167.00,415.88 167.50,416.79 168.00,415.94 168.50,415.88 169.00,416.06 169.50,415.72 170.00,416.01 170.50,416.24 171.00,415.14 171.50,416.28 172.00,415.64 172.50,415.23 173.00,414.64 173.50,415.10 174.00,415.20 174.50,415.95 175.00,415.86 175.50,416.87 176.00,416.60 176.50,416.19 177.00,416.00 177.50,416.06 178.00,415.21 178.50,416.06 179.00,415.44 179.50,415.13 180.00,414.36 180.50,413.33 181.00,410.51 181.50,407.02 182.00,395.74 182.50,376.30 183.00,354.10 183.50,341.28 184.00,336.20 184.50,340.06 185.00,349.30 185.50,364.20 186.00,376.91 186.50,388.35 187.00,395.42 187.50,400.91 188.00,404.68 188.50,405.91 189.00,405.91 189.50,406.00 190.00,407.08 190.50,408.13 191.00,409.70 191.50,410.74 192.00,411.40 192.50,411.03 193.00,411.23 193.50,412.03 194.00,414.08 194.50,415.20 195.00,415.41 195.50,415.44 196.00,415.46 196.50,416.31 197.00,415.11 197.50,414.89 198.00,414.45 198.50,415.09 199.00,414.85 199.50,415.01 200.00,415.17 200.50,414.38 201.00,415.16 201.50,414.91 202.00,415.78 202.50,414.79 203.00,414.29 203.50,414.18 204.00,413.96 204.50,414.96 205.00,415.37 205.50,415.24 206.00,416.67 206.50,415.51 207.00,414.87 207.50,415.11 208.00,415.04 208.50,414.40 209.00,414.03 209.50,414.25 210.00,413.59 210.50,415.15 211.00,414.96 211.50,414.55 212.00,415.40 212.50,415.48 213.00,415.04 213.50,415.48 214.00,414.73 214.50,413.87 215.00,414.45 215.50,415.00 216.00,414.35 216.50,413.88 217.00,413.89 217.50,413.33 218.00,412.81 218.50,412.39 219.00,412.07 219.50,413.02 220.00,414.22 220.50,415.23 221.00,414.17 221.50,414.85 222.00,415.22 222.50,413.97 223.00,414.01 223.50,413.46 224.00,414.39 224.50,415.11 225.00,415.38 225.50,414.93 226.00,414.81 226.50,414.76 227.00,413.80 227.50,413.77 228.00,414.97 228.50,414.81 229.00,414.64 229.50,415.22 230.00,413.98 230.50,414.06 231.00,413.80 231.50,414.68 232.00,415.43 232.50,414.85 233.00,415.03 233.50,415.31 234.00,415.20 234.50,415.00 235.00,414.92 235.50,415.06 236.00,414.79 236.50,413.43 237.00,413.61 237.50,414.54 238.00,413.73 238.50,414.58 239.00,415.53 239.50,415.93 240.00,416.45 240.50,415.11 241.00,415.56 241.50,415.95 242.00,415.71 242.50,415.40 243.00,415.77 243.50,415.61 244.00,415.25 244.50,414.74 245.00,415.28 245.50,414.79 246.00,414.69 246.50,414.49 247.00,414.94 247.50,415.47 248.00,414.67 248.50,414.45 249.00,414.97 249.50,415.28 250.00,414.70 250.50,413.74 251.00,414.09 251.50,413.19 252.00,413.84 252.50,414.15 253.00,414.24 253.50,413.98 254.00,415.15 254.50,414.90 255.00,414.22 255.50,415.30 256.00,414.93 256.50,414.50 257.00,413.79 257.50,413.51 258.00,414.17 258.50,413.45 259.00,414.68 259.50,415.45 260.00,414.46 260.50,414.29 261.00,415.12 261.50,414.42 262.00,414.18 262.50,414.12 263.00,414.68 263.50,415.36 264.00,415.86 264.50,415.25 265.00,414.72 265.50,414.36 266.00,413.91 266.50,412.76 267.00,413.27 267.50,413.58 268.00,412.70 268.50,413.86 269.00,414.61 269.50,414.20 270.00,415.43 270.50,414.32 271.00,415.21 271.50,415.43 272.00,415.76 272.50,415.77 273.00,415.66 273.50,414.76 274.00,414.82 274.50,414.12 275.00,414.07 275.50,415.06 276.00,414.92 276.50,415.17 277.00,415.20 277.50,414.94 278.00,414.69 278.50,414.53 279.00,415.74 279.50,415.35 280.00,415.31 280.50,414.13 281.00,414.59 281.50,414.72 282.00,414.76 282.50,414.39 283.00,415.18 283.50,415.06 284.00,415.00 284.50,414.91 285.00,414.99 285.50,415.17 286.00,414.95 286.50,415.54 287.00,414.36 287.50,414.59 288.00,415.61 288.50,415.36 289.00,414.60 289.50,414.81 290.00,414.88 290.50,416.00 291.00,414.69 291.50,414.72 292.00,415.76 292.50,415.51 293.00,414.42 293.50,414.42 294.00,415.37 294.50,415.37 295.00,414.97 295.50,413.85 296.00,414.21 296.50,414.14 297.00,414.64 297.50,414.70 298.00,415.26 298.50,415.70 299.00,415.94 299.50,415.67 300.00,414.61 300.50,414.73 301.00,414.17 301.50,414.10 302.00,414.38 302.50,414.84 303.00,413.74 303.50,413.70 304.00,413.63 304.50,412.96 305.00,413.12 305.50,413.85 306.00,414.14 306.50,414.19 307.00,413.37 307.50,414.60 308.00,415.62 308.50,415.45 309.00,415.13 309.50,415.26 310.00,414.57 310.50,414.38 311.00,414.61 311.50,414.67 312.00,413.77 312.50,413.28 313.00,413.17 313.50,414.17 314.00,413.87 314.50,414.91 315.00,415.78 315.50,414.43 316.00,414.17 316.50,414.14 317.00,413.75 317.50,413.44 318.00,413.97 318.50,414.24 319.00,414.21 319.50,414.07 320.00,414.34 320.50,415.24 321.00,413.76 321.50,414.65 322.00,415.02 322.50,414.61 323.00,414.72 323.50,414.49 324.00,413.42 324.50,413.39 325.00,414.32 325.50,414.39 326.00,414.62 326.50,414.07 327.00,414.88 327.50,415.31 328.00,415.89 328.50,415.08 329.00,414.74 329.50,414.40 330.00,414.16 330.50,415.08 331.00,415.12 331.50,415.49 332.00,414.52 332.50,414.21 333.00,415.22 333.50,414.73 334.00,414.70 334.50,414.68 335.00,414.38 335.50,414.88 336.00,414.99 336.50,415.22 337.00,415.33 337.50,415.58 338.00,414.60 338.50,414.39 339.00,414.71 339.50,415.57 340.00,414.03 340.50,414.39 341.00,414.48 341.50,414.30 342.00,413.68 342.50,414.38 343.00,415.76 343.50,415.43 344.00,415.11 344.50,415.23 345.00,414.27 345.50,414.75 346.00,414.60 346.50,415.10 347.00,414.56 347.50,415.01 348.00,414.48 348.50,414.56 349.00,414.59 349.50,414.52 350.00,415.45 350.50,415.34 351.00,414.95 351.50,415.06 352.00,414.31 352.50,414.11 353.00,414.80 353.50,414.20 354.00,414.60 354.50,414.41 355.00,413.98 355.50,414.94 356.00,415.27 356.50,415.05 357.00,415.03 357.50,415.74 358.00,414.93 358.50,414.77 359.00,414.67 359.50,414.57 360.00,414.31 360.50,414.95 361.00,414.70 361.50,414.96 362.00,415.11 362.50,415.38 363.00,414.47 363.50,415.85 364.00,415.67 364.50,414.88 365.00,414.99 365.50,415.21 366.00,414.47 366.50,415.09 367.00,415.08 367.50,414.72 368.00,415.01 368.50,415.15 369.00,414.93 369.50,414.37 370.00,415.03 370.50,414.64 371.00,414.74 371.50,414.93 372.00,415.52 372.50,414.28 373.00,414.25 373.50,414.38 374.00,414.74 374.50,413.95 375.00,414.69 375.50,415.24 376.00,415.40 376.50,415.12 377.00,414.79 377.50,415.78 378.00,415.14 378.50,414.83 379.00,414.27 379.50,414.69 380.00,413.99 380.50,413.38 381.00,414.35" fill="none" stroke="#000" stroke-width="1.3" stroke-linejoin="round"/>
<line x1="57.00" y1="96.60" x2="65.00" y2="96.60" stroke="#000" stroke-width="1.5"/>
<line x1="631.80" y1="96.60" x2="623.80" y2="96.60" stroke="#000" stroke-width="1.5"/>
<line x1="57.00" y1="83.03" x2="61.00" y2="83.03" stroke="#000" stroke-width="1.5"/>
<line x1="631.80" y1="83.03" x2="627.80" y2="83.03" stroke="#000" stroke-width="1.5"/>
<line x1="57.00" y1="69.47" x2="65.00" y2="69.47" stroke="#000" stroke-width="1.5"/>
<line x1="631.80" y1="69.47" x2="623.80" y2="69.47" stroke="#000" stroke-width="1.5"/>
<line x1="57.00" y1="55.90" x2="61.00" y2="55.90" stroke="#000" stroke-width="1.5"/>
<line x1="631.80" y1="55.90" x2="627.80" y2="55.90" stroke="#000" stroke-width="1.5"/>
<line x1="57.00" y1="42.33" x2="65.00" y2="42.33" stroke="#000" stroke-width="1.5"/>
<line x1="631.80" y1="42.33" x2="623.80" y2="42.33" stroke="#000" stroke-width="1.5"/>
<line x1="57.00" y1="28.77" x2="61.00" y2="28.77" stroke="#000" stroke-width="1.5"/>
<line x1="631.80" y1="28.77" x2="627.80" y2="28.77" stroke="#000" stroke-width="1.5"/>
<line x1="57.00" y1="15.20" x2="65.00" y2="15.20" stroke="#000" stroke-width="1.5"/>
<line x1="631.80" y1="15.20" x2="623.80" y2="15.20" stroke="#000" stroke-width="1.5"/>
<line x1="221.23" y1="108.80" x2="221.23" y2="100.80" stroke="#000" stroke-width="1.5"/>
<line x1="57.00" y1="203.60" x2="65.00" y2="203.60" stroke="#000" stroke-width="1.5"/>
<line x1="631.80" y1="203.60" x2="623.80" y2="203.60" stroke="#000" stroke-width="1.5"/>
<line x1="57.00" y1="190.03" x2="61.00" y2="190.03" stroke="#000" stroke-width="1.5"/>
<line x1="631.80" y1="190.03" x2="627.80" y2="190.03" stroke="#000" stroke-width="1.5"/>
<line x1="57.00" y1="176.47" x2="65.00" y2="176.47" stroke="#000" stroke-width="1.5"/>
<line x1="631.80" y1="176.47" x2="623.80" y2="176.47" stroke="#000" stroke-width="1.5"/>
<line x1="57.00" y1="162.90" x2="61.00" y2="162.90" stroke="#000" stroke-width="1.5"/>
<line x1="631.80" y1="162.90" x2="627.80" y2="162.90" stroke="#000" stroke-width="1.5"/>
<line x1="57.00" y1="149.33" x2="65.00" y2="149.33" stroke="#000" stroke-width="1.5"/>
<line x1="631.80" y1="149.33" x2="623.80" y2="149.33" stroke="#000" stroke-width="1.5"/>
<line x1="57.00" y1="135.77" x2="61.00" y2="135.77" stroke="#000" stroke-width="1.5"/>
<line x1="631.80" y1="135.77" x2="627.80" y2="135.77" stroke="#000" stroke-width="1.5"/>
<line x1="57.00" y1="122.20" x2="65.00" y2="122.20" stroke="#000" stroke-width="1.5"/>
<line x1="631.80" y1="122.20" x2="623.80" y2="122.20" stroke="#000" stroke-width="1.5"/>
<line x1="221.23" y1="215.80" x2="221.23" y2="207.80" stroke="#000" stroke-width="1.5"/>
<line x1="57.00" y1="310.60" x2="65.00" y2="310.60" stroke="#000" stroke-width="1.5"/>
<line x1="631.80" y1="310.60" x2="623.80" y2="310.60" stroke="#000" stroke-width="1.5"/>
<line x1="57.00" y1="297.03" x2="61.00" y2="297.03" stroke="#000" stroke-width="1.5"/>
<line x1="631.80" y1="297.03" x2="627.80" y2="297.03" stroke="#000" stroke-width="1.5"/>
<line x1="57.00" y1="283.47" x2="65.00" y2="283.47" stroke="#000" stroke-width="1.5"/>
<line x1="631.80" y1="283.47" x2="623.80" y2="283.47" stroke="#000" stroke-width="1.5"/>
<line x1="57.00" y1="269.90" x2="61.00" y2="269.90" stroke="#000" stroke-width="1.5"/>
<line x1="631.80" y1="269.90" x2="627.80" y2="269.90" stroke="#000" stroke-width="1.5"/>
<line x1="57.00" y1="256.33" x2="65.00" y2="256.33" stroke="#000" stroke-width="1.5"/>
<line x1="631.80" y1="256.33" x2="623.80" y2="256.33" stroke="#000" stroke-width="1.5"/>
<line x1="57.00" y1="242.77" x2="61.00" y2="242.77" stroke="#000" stroke-width="1.5"/>
<line x1="631.80" y1="242.77" x2="627.80" y2="242.77" stroke="#000" stroke-width="1.5"/>
<line x1="57.00" y1="229.20" x2="65.00" y2="229.20" stroke="#000" stroke-width="1.5"/>
<line x1="631.80" y1="229.20" x2="623.80" y2="229.20" stroke="#000" stroke-width="1.5"/>
<line x1="221.23" y1="322.80" x2="221.23" y2="314.80" stroke="#000" stroke-width="1.5"/>
<line x1="57.00" y1="417.60" x2="65.00" y2="417.60" stroke="#000" stroke-width="1.5"/>
<line x1="631.80" y1="417.60" x2="623.80" y2="417.60" stroke="#000" stroke-width="1.5"/>
<line x1="57.00" y1="404.03" x2="61.00" y2="404.03" stroke="#000" stroke-width="1.5"/>
<line x1="631.80" y1="404.03" x2="627.80" y2="404.03" stroke="#000" stroke-width="1.5"/>
<line x1="57.00" y1="390.47" x2="65.00" y2="390.47" stroke="#000" stroke-width="1.5"/>
<line x1="631.80" y1="390.47" x2="623.80" y2="390.47" stroke="#000" stroke-width="1.5"/>
<line x1="57.00" y1="376.90" x2="61.00" y2="376.90" stroke="#000" stroke-width="1.5"/>
<line x1="631.80" y1="376.90" x2="627.80" y2="376.90" stroke="#000" stroke-width="1.5"/>
<line x1="57.00" y1="363.33" x2="65.00" y2="363.33" stroke="#000" stroke-width="1.5"/>
<line x1="631.80" y1="363.33" x2="623.80" y2="363.33" stroke="#000" stroke-width="1.5"/>
<line x1="57.00" y1="349.77" x2="61.00" y2="349.77" stroke="#000" stroke-width="1.5"/>
<line x1="631.80" y1="349.77" x2="627.80" y2="349.77" stroke="#000" stroke-width="1.5"/>
<line x1="57.00" y1="336.20" x2="65.00" y2="336.20" stroke="#000" stroke-width="1.5"/>
<line x1="631.80" y1="336.20" x2="623.80" y2="336.20" stroke="#000" stroke-width="1.5"/>
<line x1="221.23" y1="429.80" x2="221.23" y2="421.80" stroke="#000" stroke-width="1.5"/>
<line x1="57.00" y1="1.80" x2="631.80" y2="1.80" stroke="#000" stroke-width="1.9"/>
<line x1="57.00" y1="108.80" x2="631.80" y2="108.80" stroke="#000" stroke-width="1.9"/>
<line x1="57.00" y1="215.80" x2="631.80" y2="215.80" stroke="#000" stroke-width="1.9"/>
<line x1="57.00" y1="322.80" x2="631.80" y2="322.80" stroke="#000" stroke-width="1.9"/>
<line x1="57.00" y1="430.10" x2="631.80" y2="430.10" stroke="#000" stroke-width="1.6"/>
<line x1="57.10" y1="0.90" x2="57.10" y2="430.90" stroke="#000" stroke-width="1.7"/>
<line x1="631.80" y1="0.90" x2="631.80" y2="430.90" stroke="#000" stroke-width="1.6"/>
<rect x="58.00" y="2.80" width="69.40" height="26.30" fill="#fff"/>
<line x1="59.4" y1="13.90" x2="97.6" y2="13.90" stroke="#0000ff" stroke-width="1.5"/>
<line x1="127.4" y1="2.70" x2="127.4" y2="30.10" stroke="#555" stroke-width="1"/>
<line x1="58.00" y1="29.70" x2="128.0" y2="29.70" stroke="#888" stroke-width="1.6"/>
<g transform="matrix(1 0 0 1.040 0 -0.796)">
<text x="101.6" y="19.90" font-family="Liberation Sans, sans-serif" font-size="17" fill="#000">C</text>
<text x="119.57" y="25.70" font-size="10.2" fill="#000" style="stroke-width:0.15px">5</text>
<path d="M117.70,25.70 L116.80,25.70 L116.80,20.22 Q116.48,20.52 115.95,20.82 Q115.43,21.12 115.01,21.27 L115.01,20.43 Q115.76,20.09 116.33,19.61 Q116.89,19.13 117.12,18.68 L117.70,18.68 Z" fill="#000" stroke="#000" stroke-width="0.15"/>
</g>
<rect x="58.00" y="109.80" width="69.40" height="26.30" fill="#fff"/>
<line x1="59.4" y1="120.90" x2="97.6" y2="120.90" stroke="#00ff00" stroke-width="1.5"/>
<line x1="127.4" y1="109.70" x2="127.4" y2="137.10" stroke="#555" stroke-width="1"/>
<line x1="58.00" y1="136.70" x2="128.0" y2="136.70" stroke="#888" stroke-width="1.6"/>
<g transform="matrix(1 0 0 1.040 0 -5.076)">
<text x="101.6" y="126.90" font-family="Liberation Sans, sans-serif" font-size="17" fill="#000">C</text>
<text x="119.57" y="132.70" font-size="10.2" fill="#000" style="stroke-width:0.15px">4</text>
<path d="M117.70,132.70 L116.80,132.70 L116.80,127.22 Q116.48,127.52 115.95,127.82 Q115.43,128.12 115.01,128.27 L115.01,127.43 Q115.76,127.09 116.33,126.61 Q116.89,126.13 117.12,125.68 L117.70,125.68 Z" fill="#000" stroke="#000" stroke-width="0.15"/>
</g>
<rect x="58.00" y="216.80" width="69.40" height="26.30" fill="#fff"/>
<line x1="59.4" y1="227.90" x2="97.6" y2="227.90" stroke="#ff0000" stroke-width="1.5"/>
<line x1="127.4" y1="216.70" x2="127.4" y2="244.10" stroke="#555" stroke-width="1"/>
<line x1="58.00" y1="243.70" x2="128.0" y2="243.70" stroke="#888" stroke-width="1.6"/>
<g transform="matrix(1 0 0 1.040 0 -9.356)">
<text x="101.6" y="233.90" font-family="Liberation Sans, sans-serif" font-size="17" fill="#000">C</text>
<text x="119.57" y="239.70" font-size="10.2" fill="#000" style="stroke-width:0.15px">3</text>
<path d="M117.70,239.70 L116.80,239.70 L116.80,234.22 Q116.48,234.52 115.95,234.82 Q115.43,235.12 115.01,235.27 L115.01,234.43 Q115.76,234.09 116.33,233.61 Q116.89,233.13 117.12,232.68 L117.70,232.68 Z" fill="#000" stroke="#000" stroke-width="0.15"/>
</g>
<rect x="58.00" y="323.80" width="69.40" height="26.30" fill="#fff"/>
<line x1="59.4" y1="334.90" x2="97.6" y2="334.90" stroke="#000" stroke-width="1.2"/>
<line x1="127.4" y1="323.70" x2="127.4" y2="351.10" stroke="#555" stroke-width="1"/>
<line x1="58.00" y1="350.70" x2="128.0" y2="350.70" stroke="#888" stroke-width="1.6"/>
<g transform="matrix(1 0 0 1.040 0 -13.636)">
<text x="101.6" y="340.90" font-family="Liberation Sans, sans-serif" font-size="17" fill="#000">C</text>
<text x="119.57" y="346.70" font-size="10.2" fill="#000" style="stroke-width:0.15px">2</text>
<path d="M117.70,346.70 L116.80,346.70 L116.80,341.22 Q116.48,341.52 115.95,341.82 Q115.43,342.12 115.01,342.27 L115.01,341.43 Q115.76,341.09 116.33,340.61 Q116.89,340.13 117.12,339.68 L117.70,339.68 Z" fill="#000" stroke="#000" stroke-width="0.15"/>
</g>
<text x="48.7" y="101.60" transform="matrix(1 0 0 1.040 0 -4.064)" font-family="Liberation Sans, sans-serif" font-size="17" text-anchor="end" fill="#000">0</text>
<text x="48.7" y="74.47" transform="matrix(1 0 0 1.040 0 -2.979)" font-family="Liberation Sans, sans-serif" font-size="17" text-anchor="end" fill="#000">33</text>
<text x="48.7" y="47.33" transform="matrix(1 0 0 1.040 0 -1.893)" font-family="Liberation Sans, sans-serif" font-size="17" text-anchor="end" fill="#000">66</text>
<text x="48.7" y="20.20" transform="matrix(1 0 0 1.040 0 -0.808)" font-family="Liberation Sans, sans-serif" font-size="17" text-anchor="end" fill="#000">99</text>
<text x="0" y="0" transform="translate(16.4 48.35) rotate(-90)" font-family="Liberation Sans, sans-serif" font-size="20.7" text-anchor="middle" fill="#000">Int. (%)</text>
<text x="48.7" y="208.60" transform="matrix(1 0 0 1.040 0 -8.344)" font-family="Liberation Sans, sans-serif" font-size="17" text-anchor="end" fill="#000">0</text>
<text x="48.7" y="181.47" transform="matrix(1 0 0 1.040 0 -7.259)" font-family="Liberation Sans, sans-serif" font-size="17" text-anchor="end" fill="#000">33</text>
<text x="48.7" y="154.33" transform="matrix(1 0 0 1.040 0 -6.173)" font-family="Liberation Sans, sans-serif" font-size="17" text-anchor="end" fill="#000">66</text>
<text x="48.7" y="127.20" transform="matrix(1 0 0 1.040 0 -5.088)" font-family="Liberation Sans, sans-serif" font-size="17" text-anchor="end" fill="#000">99</text>
<text x="0" y="0" transform="translate(16.4 155.35) rotate(-90)" font-family="Liberation Sans, sans-serif" font-size="20.7" text-anchor="middle" fill="#000">Int. (%)</text>
<text x="48.7" y="315.60" transform="matrix(1 0 0 1.040 0 -12.624)" font-family="Liberation Sans, sans-serif" font-size="17" text-anchor="end" fill="#000">0</text>
<text x="48.7" y="288.47" transform="matrix(1 0 0 1.040 0 -11.539)" font-family="Liberation Sans, sans-serif" font-size="17" text-anchor="end" fill="#000">33</text>
<text x="48.7" y="261.33" transform="matrix(1 0 0 1.040 0 -10.453)" font-family="Liberation Sans, sans-serif" font-size="17" text-anchor="end" fill="#000">66</text>
<text x="48.7" y="234.20" transform="matrix(1 0 0 1.040 0 -9.368)" font-family="Liberation Sans, sans-serif" font-size="17" text-anchor="end" fill="#000">99</text>
<text x="0" y="0" transform="translate(16.4 262.35) rotate(-90)" font-family="Liberation Sans, sans-serif" font-size="20.7" text-anchor="middle" fill="#000">Int. (%)</text>
<text x="48.7" y="422.60" transform="matrix(1 0 0 1.040 0 -16.904)" font-family="Liberation Sans, sans-serif" font-size="17" text-anchor="end" fill="#000">0</text>
<text x="48.7" y="395.47" transform="matrix(1 0 0 1.040 0 -15.819)" font-family="Liberation Sans, sans-serif" font-size="17" text-anchor="end" fill="#000">33</text>
<text x="48.7" y="368.33" transform="matrix(1 0 0 1.040 0 -14.733)" font-family="Liberation Sans, sans-serif" font-size="17" text-anchor="end" fill="#000">66</text>
<text x="48.7" y="341.20" transform="matrix(1 0 0 1.040 0 -13.648)" font-family="Liberation Sans, sans-serif" font-size="17" text-anchor="end" fill="#000">99</text>
<text x="0" y="0" transform="translate(16.4 369.35) rotate(-90)" font-family="Liberation Sans, sans-serif" font-size="20.7" text-anchor="middle" fill="#000">Int. (%)</text>
<text x="221.23" y="451.4" transform="matrix(1 0 0 1.040 0 -18.056)" font-family="Liberation Sans, sans-serif" font-size="17" text-anchor="middle" fill="#000">20</text>
<text x="631.50" y="451.0" transform="matrix(1 0 0 1.040 0 -18.040)" font-family="Liberation Sans, sans-serif" font-size="17" text-anchor="middle" fill="#000">25</text>
<text x="344.4" y="473.5" font-family="Liberation Sans, sans-serif" font-size="20.6" text-anchor="middle" fill="#000">Ret.Time [min]</text>
<g transform="matrix(1 0 0 1.040 0 -0.888)">
<text x="403.10" y="22.20" font-size="15" fill="#000" style="stroke-width:0.22px">I</text>
<text x="407.27 412.33" y="26.90" font-size="9.1" fill="#000" style="stroke-width:0.15px">43</text>
<text x="417.39 421.56" y="22.20" font-size="15" fill="#000" style="stroke-width:0.22px">/I</text>
<text x="425.72 430.79" y="26.90" font-size="9.1" fill="#000" style="stroke-width:0.15px">57</text>
<text x="440.01 461.28 465.45" y="22.20" font-size="15" fill="#000" style="stroke-width:0.22px">=.6</text>
<path d="M458.53,22.20 L457.21,22.20 L457.21,14.14 Q456.74,14.58 455.96,15.02 Q455.19,15.46 454.57,15.68 L454.57,14.45 Q455.68,13.95 456.51,13.24 Q457.34,12.53 457.68,11.88 L458.53,11.88 Z" fill="#000" stroke="#000" stroke-width="0.22"/>
<path d="M479.38,22.20 L478.06,22.20 L478.06,14.14 Q477.59,14.58 476.81,15.02 Q476.04,15.46 475.43,15.68 L475.43,14.45 Q476.53,13.95 477.36,13.24 Q478.19,12.53 478.53,11.88 L479.38,11.88 Z" fill="#000" stroke="#000" stroke-width="0.22"/>
</g>
<g transform="matrix(1 0 0 1.040 0 -1.168)">
<text x="509.50" y="29.20" font-size="15" fill="#000" style="stroke-width:0.22px">I</text>
<text x="513.67 518.73" y="33.90" font-size="9.1" fill="#000" style="stroke-width:0.15px">43</text>
<text x="523.79 527.96" y="29.20" font-size="15" fill="#000" style="stroke-width:0.22px">/I</text>
<text x="532.12 537.19" y="33.90" font-size="9.1" fill="#000" style="stroke-width:0.15px">57</text>
<text x="546.41 567.68 571.85 580.19" y="29.20" font-size="15" fill="#000" style="stroke-width:0.22px">=.03</text>
<path d="M564.93,29.20 L563.61,29.20 L563.61,21.14 Q563.14,21.58 562.36,22.02 Q561.59,22.46 560.97,22.68 L560.97,21.45 Q562.08,20.95 562.91,20.24 Q563.74,19.53 564.08,18.88 L564.93,18.88 Z" fill="#000" stroke="#000" stroke-width="0.22"/>
</g>
<g transform="matrix(1 0 0 1.040 0 -5.184)">
<text x="392.30" y="129.60" font-size="15" fill="#000" style="stroke-width:0.22px">I</text>
<text x="396.47 401.53" y="134.30" font-size="9.1" fill="#000" style="stroke-width:0.15px">43</text>
<text x="406.59 410.76" y="129.60" font-size="15" fill="#000" style="stroke-width:0.22px">/I</text>
<text x="414.92 419.99" y="134.30" font-size="9.1" fill="#000" style="stroke-width:0.15px">57</text>
<text x="429.21 450.48 454.65 462.99" y="129.60" font-size="15" fill="#000" style="stroke-width:0.22px">=.89</text>
<path d="M447.73,129.60 L446.41,129.60 L446.41,121.54 Q445.94,121.98 445.16,122.42 Q444.39,122.86 443.77,123.08 L443.77,121.85 Q444.88,121.35 445.71,120.64 Q446.54,119.93 446.88,119.28 L447.73,119.28 Z" fill="#000" stroke="#000" stroke-width="0.22"/>
</g>
<g transform="matrix(1 0 0 1.040 0 -7.156)">
<text x="426.30" y="178.90" font-size="15" fill="#000" style="stroke-width:0.22px">I</text>
<text x="430.47 435.53" y="183.60" font-size="9.1" fill="#000" style="stroke-width:0.15px">43</text>
<text x="440.59 444.76" y="178.90" font-size="15" fill="#000" style="stroke-width:0.22px">/I</text>
<text x="448.92 453.99" y="183.60" font-size="9.1" fill="#000" style="stroke-width:0.15px">57</text>
<text x="463.21 476.14 484.48 488.65 496.99" y="178.90" font-size="15" fill="#000" style="stroke-width:0.22px">=2.05</text>
</g>
<g transform="matrix(1 0 0 1.040 0 -9.472)">
<text x="273.50" y="236.80" font-size="15" fill="#000" style="stroke-width:0.22px">I</text>
<text x="277.67 282.73" y="241.50" font-size="9.1" fill="#000" style="stroke-width:0.15px">43</text>
<text x="287.79 291.96" y="236.80" font-size="15" fill="#000" style="stroke-width:0.22px">/I</text>
<text x="296.12 301.19" y="241.50" font-size="9.1" fill="#000" style="stroke-width:0.15px">57</text>
<text x="310.41 323.34 331.68 335.85 344.19" y="236.80" font-size="15" fill="#000" style="stroke-width:0.22px">=2.29</text>
</g>
<g transform="matrix(1 0 0 1.040 0 -10.812)">
<text x="286.60" y="270.30" font-size="15" fill="#000" style="stroke-width:0.22px">I</text>
<text x="290.77 295.83" y="275.00" font-size="9.1" fill="#000" style="stroke-width:0.15px">43</text>
<text x="300.89 305.06" y="270.30" font-size="15" fill="#000" style="stroke-width:0.22px">/I</text>
<text x="309.22 314.29" y="275.00" font-size="9.1" fill="#000" style="stroke-width:0.15px">57</text>
<text x="323.51 344.78 348.95 357.29" y="270.30" font-size="15" fill="#000" style="stroke-width:0.22px">=.22</text>
<path d="M342.03,270.30 L340.71,270.30 L340.71,262.24 Q340.24,262.68 339.46,263.12 Q338.69,263.56 338.07,263.78 L338.07,262.55 Q339.18,262.05 340.01,261.34 Q340.84,260.63 341.18,259.98 L342.03,259.98 Z" fill="#000" stroke="#000" stroke-width="0.22"/>
</g>
<g transform="matrix(1 0 0 1.040 0 -14.868)">
<text x="93.40" y="371.70" font-size="15" fill="#000" style="stroke-width:0.22px">I</text>
<text x="97.57 102.63" y="376.40" font-size="9.1" fill="#000" style="stroke-width:0.15px">43</text>
<text x="107.69 111.86" y="371.70" font-size="15" fill="#000" style="stroke-width:0.22px">/I</text>
<text x="116.02 121.09" y="376.40" font-size="9.1" fill="#000" style="stroke-width:0.15px">57</text>
<text x="130.31 143.24 151.58 164.09" y="371.70" font-size="15" fill="#000" style="stroke-width:0.22px">=2.2</text>
<path d="M161.34,371.70 L160.02,371.70 L160.02,363.64 Q159.54,364.08 158.77,364.52 Q158.00,364.96 157.38,365.18 L157.38,363.95 Q158.49,363.45 159.32,362.74 Q160.15,362.03 160.49,361.38 L161.34,361.38 Z" fill="#000" stroke="#000" stroke-width="0.22"/>
</g>
<g transform="matrix(1 0 0 1.040 0 -13.832)">
<text x="189.20" y="345.80" font-size="15" fill="#000" style="stroke-width:0.22px">I</text>
<text x="193.37 198.43" y="350.50" font-size="9.1" fill="#000" style="stroke-width:0.15px">43</text>
<text x="203.49 207.66" y="345.80" font-size="15" fill="#000" style="stroke-width:0.22px">/I</text>
<text x="211.82 216.89" y="350.50" font-size="9.1" fill="#000" style="stroke-width:0.15px">57</text>
<text x="226.11 239.04 247.38 251.55" y="345.80" font-size="15" fill="#000" style="stroke-width:0.22px">=2.5</text>
<path d="M265.48,345.80 L264.16,345.80 L264.16,337.74 Q263.69,338.18 262.91,338.62 Q262.14,339.06 261.53,339.28 L261.53,338.05 Q262.63,337.55 263.46,336.84 Q264.29,336.13 264.63,335.48 L265.48,335.48 Z" fill="#000" stroke="#000" stroke-width="0.22"/>
</g>
<rect x="379.70" y="236.00" width="252.10" height="194.10" fill="#fff" stroke="#333" stroke-width="1.5"/>
<line x1="631.80" y1="235.00" x2="631.80" y2="430.90" stroke="#000" stroke-width="1.6"/>
<line x1="378.70" y1="430.10" x2="632.60" y2="430.10" stroke="#000" stroke-width="1.6"/>
<polyline points="400.60,269.60 418.30,259.40 437.00,270.60 454.80,259.40 473.50,270.60 492.70,259.40" stroke="#333" stroke-width="1.1" fill="none" stroke-linejoin="miter"/>
<polyline points="394.78,264.49 394.96,264.60 395.20,264.69 395.49,264.75 395.82,264.80 396.16,264.84 396.52,264.88 396.86,264.91 397.19,264.96 397.48,265.03 397.72,265.12 397.90,265.23 398.02,265.38 398.08,265.55 398.07,265.76 398.01,265.99 397.89,266.25 397.74,266.53 397.55,266.82 397.36,267.12 397.16,267.41 396.99,267.70 396.84,267.97 396.74,268.22 396.70,268.45 396.71,268.64 396.79,268.81 396.93,268.95 397.13,269.05 397.38,269.13 397.68,269.19 398.02,269.24 398.37,269.28 398.72,269.31 399.06,269.35 399.38,269.40 399.65,269.48 399.88,269.57 400.05,269.69 400.15,269.85 400.19,270.03 400.17,270.25 400.09,270.49 399.96,270.75 399.80,271.03 399.61,271.32 399.41,271.62 399.22,271.92 399.05,272.20 398.92,272.47 398.83,272.71 398.80,272.93 398.83,273.12 398.92,273.27 399.08,273.40 399.30,273.50 399.57,273.58 399.88,273.63 400.22,273.67 400.57,273.71 400.92,273.74 401.26,273.79 401.56,273.85 401.83,273.92 402.04,274.03 402.19,274.16 402.27,274.32 402.30,274.51 402.26,274.73 402.16,274.98 402.03,275.25 401.85,275.54 401.66,275.83 401.47,276.13 401.28,276.42 401.12,276.70 401.00,276.96 400.92,277.20 400.91,277.41 400.96,277.59 401.07,277.74 401.24,277.86 401.48,277.95 401.76,278.02 402.08,278.07 402.42,278.11 402.77,278.14 403.12,278.18 403.45,278.23 403.75,278.29 404.00,278.37" stroke="#1a1a1a" stroke-width="1.2" fill="none" stroke-linecap="round"/>
<polyline points="451.20,244.20 445.70,246.80 445.70,282.80 440.40,285.50" stroke="#ff9c9c" stroke-width="1.05" fill="none" stroke-linejoin="round"/>
<polyline points="400.60,334.30 418.30,324.00 437.00,335.20 455.70,324.50 473.50,334.80 492.70,324.00" stroke="#333" stroke-width="1.1" fill="none" stroke-linejoin="miter"/>
<polyline points="455.70,324.50 455.70,302.90" stroke="#333" stroke-width="1.1" fill="none" stroke-linejoin="miter"/>
<polyline points="394.78,329.19 394.96,329.30 395.20,329.39 395.49,329.45 395.82,329.50 396.16,329.54 396.52,329.58 396.86,329.61 397.19,329.66 397.48,329.73 397.72,329.82 397.90,329.93 398.02,330.08 398.08,330.25 398.07,330.46 398.01,330.69 397.89,330.95 397.74,331.23 397.55,331.52 397.36,331.82 397.16,332.11 396.99,332.40 396.84,332.67 396.74,332.92 396.70,333.15 396.71,333.34 396.79,333.51 396.93,333.65 397.13,333.75 397.38,333.83 397.68,333.89 398.02,333.94 398.37,333.98 398.72,334.01 399.06,334.05 399.38,334.10 399.65,334.18 399.88,334.27 400.05,334.39 400.15,334.55 400.19,334.73 400.17,334.95 400.09,335.19 399.96,335.45 399.80,335.73 399.61,336.02 399.41,336.32 399.22,336.62 399.05,336.90 398.92,337.17 398.83,337.41 398.80,337.63 398.83,337.82 398.92,337.97 399.08,338.10 399.30,338.20 399.57,338.28 399.88,338.33 400.22,338.37 400.57,338.41 400.92,338.44 401.26,338.49 401.56,338.55 401.83,338.62 402.04,338.73 402.19,338.86 402.27,339.02 402.30,339.21 402.26,339.43 402.16,339.68 402.03,339.95 401.85,340.24 401.66,340.53 401.47,340.83 401.28,341.12 401.12,341.40 401.00,341.66 400.92,341.90 400.91,342.11 400.96,342.29 401.07,342.44 401.24,342.56 401.48,342.65 401.76,342.72 402.08,342.77 402.42,342.81 402.77,342.84 403.12,342.88 403.45,342.93 403.75,342.99 404.00,343.07" stroke="#1a1a1a" stroke-width="1.2" fill="none" stroke-linecap="round"/>
<polyline points="451.90,309.20 446.40,311.80 446.40,347.30 441.10,350.00" stroke="#ff9c9c" stroke-width="1.05" fill="none" stroke-linejoin="round"/>
<polyline points="400.60,396.40 418.30,387.70 437.00,398.30 454.80,387.70 473.50,398.30 492.70,387.70" stroke="#333" stroke-width="1.1" fill="none" stroke-linejoin="miter"/>
<polyline points="473.50,398.30 473.50,419.80" stroke="#333" stroke-width="1.1" fill="none" stroke-linejoin="miter"/>
<polyline points="394.78,391.29 394.96,391.40 395.20,391.49 395.49,391.55 395.82,391.60 396.16,391.64 396.52,391.68 396.86,391.71 397.19,391.76 397.48,391.83 397.72,391.92 397.90,392.03 398.02,392.18 398.08,392.35 398.07,392.56 398.01,392.79 397.89,393.05 397.74,393.33 397.55,393.62 397.36,393.92 397.16,394.21 396.99,394.50 396.84,394.77 396.74,395.02 396.70,395.25 396.71,395.44 396.79,395.61 396.93,395.75 397.13,395.85 397.38,395.93 397.68,395.99 398.02,396.04 398.37,396.08 398.72,396.11 399.06,396.15 399.38,396.20 399.65,396.28 399.88,396.37 400.05,396.49 400.15,396.65 400.19,396.83 400.17,397.05 400.09,397.29 399.96,397.55 399.80,397.83 399.61,398.12 399.41,398.42 399.22,398.72 399.05,399.00 398.92,399.27 398.83,399.51 398.80,399.73 398.83,399.92 398.92,400.07 399.08,400.20 399.30,400.30 399.57,400.38 399.88,400.43 400.22,400.47 400.57,400.51 400.92,400.54 401.26,400.59 401.56,400.65 401.83,400.72 402.04,400.83 402.19,400.96 402.27,401.12 402.30,401.31 402.26,401.53 402.16,401.78 402.03,402.05 401.85,402.34 401.66,402.63 401.47,402.93 401.28,403.22 401.12,403.50 401.00,403.76 400.92,404.00 400.91,404.21 400.96,404.39 401.07,404.54 401.24,404.66 401.48,404.75 401.76,404.82 402.08,404.87 402.42,404.91 402.77,404.94 403.12,404.98 403.45,405.03 403.75,405.09 404.00,405.17" stroke="#1a1a1a" stroke-width="1.2" fill="none" stroke-linecap="round"/>
<polyline points="470.00,372.00 464.50,374.60 464.50,409.50 459.20,412.20" stroke="#ff9c9c" stroke-width="1.05" fill="none" stroke-linejoin="round"/>
<text x="0" y="0" transform="translate(404.80 293.80) scale(1 1.08)" font-family="Liberation Sans, sans-serif" font-style="italic" font-size="9.4" fill="#1a1a1a" style="stroke:#1a1a1a;stroke-width:0.2px">n-</text>
<text x="0" y="0" transform="translate(404.90 359.40) scale(1 1.08)" font-family="Liberation Sans, sans-serif" font-style="italic" font-size="9.4" fill="#1a1a1a" style="stroke:#1a1a1a;stroke-width:0.2px">anteiso-</text>
<text x="0" y="0" transform="translate(404.90 420.70) scale(1 1.08)" font-family="Liberation Sans, sans-serif" font-style="italic" font-size="9.4" fill="#1a1a1a" style="stroke:#1a1a1a;stroke-width:0.2px">iso-</text>
<line x1="502.80" y1="263.55" x2="518.80" y2="263.55" stroke="#222" stroke-width="1.15"/>
<path d="M522.80,263.55 L514.50,261.35 L517.20,263.55 L514.50,265.65 Z" fill="#222" stroke="#222" stroke-width="0.4" stroke-linejoin="round"/>
<line x1="502.80" y1="324.35" x2="518.80" y2="324.35" stroke="#222" stroke-width="1.15"/>
<path d="M522.80,324.35 L514.50,322.15 L517.20,324.35 L514.50,326.45 Z" fill="#222" stroke="#222" stroke-width="0.4" stroke-linejoin="round"/>
<line x1="502.80" y1="399.35" x2="518.80" y2="399.35" stroke="#222" stroke-width="1.15"/>
<path d="M522.80,399.35 L514.50,397.15 L517.20,399.35 L514.50,401.45 Z" fill="#222" stroke="#222" stroke-width="0.4" stroke-linejoin="round"/>
<polyline points="533.30,245.50 527.70,245.50 527.70,273.00 533.30,273.00" stroke="#555" stroke-width="1.1" fill="none"/>
<polyline points="588.40,245.50 594.20,245.50 594.20,273.20 588.40,273.20" stroke="#555" stroke-width="1.1" fill="none"/>
<text x="532.4" y="262.8" font-family="Liberation Sans, sans-serif" fill="#1e1e1e" style="stroke:#1e1e1e;stroke-width:0.25px" font-size="10.5">H</text>
<text x="540.3" y="265.6" font-family="Liberation Sans, sans-serif" fill="#1e1e1e" style="stroke:#1e1e1e;stroke-width:0.25px" font-size="7.7">2</text>
<text x="544.6" y="262.8" font-family="Liberation Sans, sans-serif" fill="#1e1e1e" style="stroke:#1e1e1e;stroke-width:0.25px" font-size="10.5">C</text>
<text x="552.9" y="255.1" font-family="Liberation Sans, sans-serif" fill="#1e1e1e" style="stroke:#1e1e1e;stroke-width:0.25px" font-size="7.5">+</text>
<polyline points="554.00,262.40 567.60,270.10 586.70,259.20" stroke="#333" stroke-width="1.1" fill="none" stroke-linejoin="miter"/>
<polyline points="596.90,260.50 618.60,260.50 618.60,394.90 592.00,394.90" stroke="#666" stroke-width="1.1" fill="none"/>
<path d="M588.2,394.9 L596.6,393.0 L594.6,394.9 L596.6,397.0 Z" fill="#444" stroke="#444" stroke-width="0.3" stroke-linejoin="round"/>
<text x="533.2" y="329.3" font-family="Liberation Sans, sans-serif" fill="#1e1e1e" style="stroke:#1e1e1e;stroke-width:0.25px" font-size="10.5">HC</text>
<text x="549.2" y="321.4" font-family="Liberation Sans, sans-serif" fill="#1e1e1e" style="stroke:#1e1e1e;stroke-width:0.25px" font-size="7.5">+</text>
<polyline points="544.80,304.10 544.80,320.00" stroke="#444" stroke-width="1.1" fill="none"/>
<polyline points="549.80,328.40 563.30,336.10 582.00,326.00" stroke="#333" stroke-width="1.1" fill="none" stroke-linejoin="miter"/>
<text x="569.5" y="312.6" font-family="Liberation Sans, sans-serif" fill="#1e1e1e" style="stroke:#1e1e1e;stroke-width:0.25px" font-size="9.2">m/z = 57</text>
<text x="540.1" y="393.0" font-family="Liberation Sans, sans-serif" fill="#1e1e1e" style="stroke:#1e1e1e;stroke-width:0.25px" font-size="10.5">HC</text>
<text x="555.7" y="385.4" font-family="Liberation Sans, sans-serif" fill="#1e1e1e" style="stroke:#1e1e1e;stroke-width:0.25px" font-size="7.5">+</text>
<polyline points="561.30,384.60 570.70,379.10" stroke="#333" stroke-width="1.1" fill="none" stroke-linejoin="miter"/>
<polyline points="551.70,394.90 551.70,411.40" stroke="#333" stroke-width="1.1" fill="none" stroke-linejoin="miter"/>
<text x="570.7" y="369.3" font-family="Liberation Sans, sans-serif" fill="#1e1e1e" style="stroke:#1e1e1e;stroke-width:0.25px" font-size="9.2">m/z = 43</text>
</svg>
</body></html>
